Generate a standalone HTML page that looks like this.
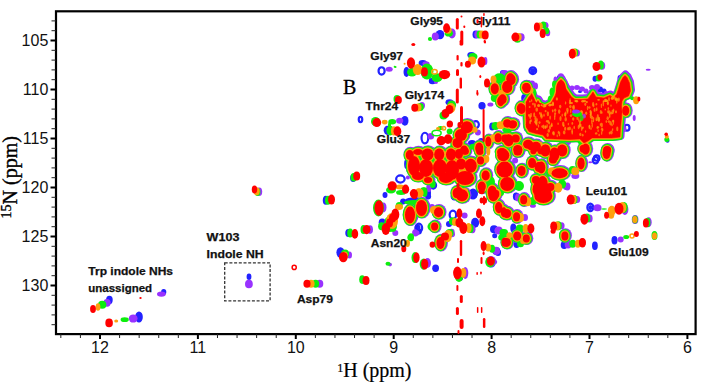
<!DOCTYPE html>
<html><head><meta charset="utf-8"><style>
html,body{margin:0;padding:0;background:#fff;}
body{width:709px;height:383px;overflow:hidden;}
svg{display:block;}
.tl{font-family:"Liberation Sans",sans-serif;font-size:16px;fill:#111;}
.ax{font-family:"Liberation Serif",serif;font-size:20px;fill:#000;}
.lb{font-family:"Liberation Sans",sans-serif;font-weight:bold;font-size:11.2px;fill:#111;stroke:#111;stroke-width:0.25px;}
</style></head><body>
<svg width="709" height="383" viewBox="0 0 709 383">
<defs><filter id="soft" x="-5%" y="-5%" width="110%" height="110%"><feGaussianBlur stdDeviation="0.35"/></filter></defs>
<rect width="709" height="383" fill="#fff"/>
<g filter="url(#soft)"><g><ellipse cx="109.4" cy="300.0" rx="3.3" ry="4.2" fill="#2020ff"/><ellipse cx="139.0" cy="317.0" rx="3.8" ry="5.6" fill="#2020ff"/><ellipse cx="163.7" cy="292.0" rx="2.6" ry="3.0" fill="#2020ff"/><ellipse cx="249.0" cy="276.8" rx="2.4" ry="3.3" fill="#2020ff"/><ellipse cx="325.8" cy="200.3" rx="3.0" ry="4.5" fill="#2020ff"/><ellipse cx="353.1" cy="178.0" rx="3.0" ry="4.0" fill="#2020ff"/><ellipse cx="360.5" cy="119.5" rx="1.75" ry="2.55" fill="none" stroke="#2020ff" stroke-width="2.2"/><ellipse cx="348.3" cy="232.9" rx="3.0" ry="4.0" fill="#2020ff"/><ellipse cx="418.9" cy="231.4" rx="3.0" ry="3.0" fill="#2020ff"/><ellipse cx="435.6" cy="268.2" rx="3.4" ry="3.7" fill="#2020ff"/><ellipse cx="382.2" cy="222.4" rx="3.5" ry="4.0" fill="#2020ff"/><ellipse cx="403.1" cy="201.5" rx="3.0" ry="3.0" fill="#2020ff"/><ellipse cx="417.5" cy="227.7" rx="3.0" ry="3.5" fill="#2020ff"/><ellipse cx="428.0" cy="193.0" rx="3.0" ry="6.0" fill="#2020ff"/><ellipse cx="416.0" cy="200.0" rx="11.0" ry="2.8" fill="#2020ff"/><ellipse cx="340.5" cy="252.5" rx="4.1" ry="5.2" fill="#2020ff"/><ellipse cx="440.0" cy="34.6" rx="4.3" ry="4.7" fill="#2020ff"/><ellipse cx="381.6" cy="70.9" rx="3.05" ry="3.65" fill="none" stroke="#2020ff" stroke-width="2.2"/><ellipse cx="406.5" cy="72.0" rx="3.0" ry="5.0" fill="#2020ff"/><ellipse cx="422.8" cy="63.0" rx="4.2" ry="3.0" fill="#2020ff"/><ellipse cx="432.5" cy="81.0" rx="3.7" ry="3.2" fill="#2020ff"/><ellipse cx="475.5" cy="34.5" rx="3.0" ry="4.0" fill="#2020ff"/><ellipse cx="595.0" cy="78.7" rx="2.5" ry="3.0" fill="#2020ff"/><ellipse cx="471.3" cy="54.9" rx="4.0" ry="3.0" fill="#2020ff"/><ellipse cx="532.6" cy="66.6" rx="0.1" ry="0.1" fill="#2020ff"/><ellipse cx="404.9" cy="120.8" rx="3.6" ry="4.9" fill="#2020ff"/><ellipse cx="387.3" cy="130.3" rx="3.6" ry="4.6" fill="#2020ff"/><ellipse cx="449.5" cy="102.3" rx="4.0" ry="3.0" fill="#2020ff"/><ellipse cx="424.9" cy="138.1" rx="3.35" ry="5.35" fill="none" stroke="#2020ff" stroke-width="2.2"/><ellipse cx="503.0" cy="72.5" rx="3.0" ry="2.5" fill="#2020ff"/><ellipse cx="524.2" cy="97.9" rx="3.0" ry="4.0" fill="#2020ff"/><ellipse cx="532.8" cy="70.7" rx="3.35" ry="3.35" fill="none" stroke="#2020ff" stroke-width="2.2"/><ellipse cx="532.8" cy="70.7" rx="2.5" ry="2.5" fill="#2020ff"/><ellipse cx="482.0" cy="105.8" rx="3.6" ry="3.8" fill="#2020ff"/><ellipse cx="492.2" cy="126.6" rx="3.0" ry="4.0" fill="#2020ff"/><ellipse cx="475.9" cy="124.6" rx="2.95" ry="3.55" fill="none" stroke="#2020ff" stroke-width="2.2"/><ellipse cx="472.0" cy="142.9" rx="4.0" ry="3.0" fill="#2020ff"/><ellipse cx="481.1" cy="140.9" rx="3.0" ry="3.0" fill="#2020ff"/><ellipse cx="526.8" cy="128.5" rx="3.0" ry="3.0" fill="#2020ff"/><ellipse cx="474.6" cy="193.1" rx="3.0" ry="3.0" fill="#2020ff"/><ellipse cx="516.4" cy="195.7" rx="3.0" ry="3.0" fill="#2020ff"/><ellipse cx="406.6" cy="164.0" rx="2.5" ry="5.0" fill="#2020ff"/><ellipse cx="433.5" cy="186.0" rx="2.0" ry="3.0" fill="#2020ff"/><ellipse cx="559.0" cy="77.0" rx="2.0" ry="2.0" fill="#2020ff"/><ellipse cx="580.0" cy="91.5" rx="2.0" ry="1.5" fill="#2020ff"/><ellipse cx="600.0" cy="89.5" rx="3.0" ry="3.0" fill="#2020ff"/><ellipse cx="604.0" cy="91.0" rx="2.5" ry="2.5" fill="#2020ff"/><ellipse cx="594.0" cy="90.0" rx="2.0" ry="2.0" fill="#2020ff"/><ellipse cx="620.0" cy="78.0" rx="2.5" ry="3.0" fill="#2020ff"/><ellipse cx="627.0" cy="127.7" rx="2.45" ry="2.95" fill="none" stroke="#2020ff" stroke-width="2.2"/><ellipse cx="667.5" cy="140.7" rx="2.0" ry="2.0" fill="#2020ff"/><ellipse cx="596.7" cy="158.0" rx="2.75" ry="2.75" fill="none" stroke="#2020ff" stroke-width="2.2"/><ellipse cx="595.5" cy="160.2" rx="2.75" ry="3.25" fill="none" stroke="#2020ff" stroke-width="2.2"/><ellipse cx="590.3" cy="207.4" rx="2.95" ry="3.75" fill="none" stroke="#2020ff" stroke-width="2.2"/><ellipse cx="590.3" cy="207.4" rx="2.0" ry="2.5" fill="#2020ff"/><ellipse cx="614.5" cy="240.3" rx="3.0" ry="4.2" fill="#2020ff"/><ellipse cx="614.5" cy="240.3" rx="1.8" ry="2.5" fill="#2020ff"/><ellipse cx="594.9" cy="245.7" rx="2.9" ry="4.2" fill="#2020ff"/><ellipse cx="564.2" cy="245.0" rx="3.5" ry="4.0" fill="#2020ff"/><ellipse cx="515.9" cy="196.5" rx="3.0" ry="4.0" fill="#2020ff"/><ellipse cx="513.3" cy="227.9" rx="3.0" ry="4.5" fill="#2020ff"/><ellipse cx="516.6" cy="244.4" rx="3.0" ry="3.5" fill="#2020ff"/><ellipse cx="496.3" cy="250.9" rx="4.0" ry="4.0" fill="#2020ff"/><ellipse cx="428.1" cy="196.5" rx="3.0" ry="3.0" fill="#2020ff"/><ellipse cx="418.9" cy="227.9" rx="3.25" ry="4.25" fill="none" stroke="#2020ff" stroke-width="2.2"/><ellipse cx="454.2" cy="196.5" rx="3.0" ry="4.0" fill="#2020ff"/><ellipse cx="452.9" cy="214.8" rx="3.25" ry="4.25" fill="none" stroke="#2020ff" stroke-width="2.2"/><ellipse cx="449.0" cy="224.0" rx="3.0" ry="3.0" fill="#2020ff"/><ellipse cx="475.1" cy="222.7" rx="4.0" ry="5.0" fill="#2020ff"/><ellipse cx="473.8" cy="194.0" rx="4.0" ry="4.5" fill="#2020ff"/><ellipse cx="494.0" cy="229.2" rx="4.0" ry="4.0" fill="#2020ff"/><ellipse cx="460.0" cy="278.0" rx="3.0" ry="3.0" fill="#2020ff"/><ellipse cx="498.0" cy="252.6" rx="3.0" ry="3.5" fill="#2020ff"/><ellipse cx="491.0" cy="262.0" rx="5.0" ry="5.5" fill="#2020ff"/><ellipse cx="494.7" cy="235.7" rx="2.5" ry="2.5" fill="#2020ff"/><ellipse cx="400.4" cy="179.0" rx="4.25" ry="3.55" fill="none" stroke="#2020ff" stroke-width="2.2"/><ellipse cx="385.0" cy="195.0" rx="2.5" ry="3.0" fill="#2020ff"/><ellipse cx="433.3" cy="185.2" rx="2.75" ry="3.35" fill="none" stroke="#2020ff" stroke-width="2.2"/><ellipse cx="453.6" cy="196.4" rx="3.0" ry="3.0" fill="#2020ff"/><ellipse cx="473.0" cy="194.0" rx="4.5" ry="5.5" fill="#2020ff"/></g>
<g><polygon points="526,102 528,99 531.7,93.5 535,101 536.5,103 538,100.5 540,104 545,106 551,103 555,96 558,87 561,79.5 564,86 568,92 571.5,97 575,99.5 582,99.5 588,99 593,92 596,97 604,98 610,95.5 613,98 616.7,94.4 618.5,89 620.5,82 623,77.5 625,75.5 627,77.5 629.5,83 630.5,91 628.5,96 624,98 622,101 621.5,106 622,112 621.5,118 620.5,128 620,137 612,138 592,138 588,141 584,143 580,139 570,139.5 555,139 546,138.5 543,135 536,133.5 529,131.5 526.5,127 526,118" fill="#9933ff" stroke="#9933ff" stroke-width="8" stroke-linejoin="round" transform="translate(0.5,-1)"/><ellipse cx="107.0" cy="302.8" rx="3.7" ry="3.9" fill="#9933ff"/><ellipse cx="133.2" cy="318.5" rx="4.4" ry="4.1" fill="#9933ff"/><ellipse cx="161.4" cy="294.1" rx="4.4" ry="2.6" fill="#9933ff"/><ellipse cx="248.9" cy="284.0" rx="3.9" ry="4.3" fill="#9933ff"/><ellipse cx="319.7" cy="283.7" rx="3.6" ry="4.0" fill="#9933ff"/><ellipse cx="259.2" cy="191.7" rx="3.0" ry="4.3" fill="#9933ff"/><ellipse cx="370.0" cy="229.6" rx="3.0" ry="4.3" fill="#9933ff"/><ellipse cx="383.5" cy="207.4" rx="3.0" ry="5.0" fill="#9933ff"/><ellipse cx="390.0" cy="264.6" rx="2.0" ry="1.8" fill="#9933ff"/><ellipse cx="415.3" cy="232.9" rx="3.0" ry="3.5" fill="#9933ff"/><ellipse cx="427.5" cy="263.0" rx="3.5" ry="5.0" fill="#9933ff"/><ellipse cx="395.3" cy="232.9" rx="3.0" ry="3.0" fill="#9933ff"/><ellipse cx="414.9" cy="232.2" rx="2.5" ry="3.0" fill="#9933ff"/><ellipse cx="410.6" cy="214.7" rx="7.9" ry="11.4" fill="#9933ff"/><ellipse cx="349.5" cy="255.0" rx="2.5" ry="3.6" fill="#9933ff"/><ellipse cx="435.3" cy="36.6" rx="3.5" ry="4.0" fill="#9933ff"/><ellipse cx="452.0" cy="33.4" rx="3.7" ry="5.0" fill="#9933ff"/><ellipse cx="389.2" cy="69.2" rx="3.5" ry="2.5" fill="#9933ff"/><ellipse cx="426.0" cy="63.7" rx="3.6" ry="2.5" fill="#9933ff"/><ellipse cx="436.0" cy="82.0" rx="2.0" ry="2.0" fill="#9933ff"/><ellipse cx="477.3" cy="34.5" rx="3.0" ry="4.0" fill="#9933ff"/><ellipse cx="521.1" cy="37.3" rx="3.5" ry="4.0" fill="#9933ff"/><ellipse cx="545.5" cy="25.6" rx="3.0" ry="3.5" fill="#9933ff"/><ellipse cx="547.7" cy="32.8" rx="2.5" ry="3.5" fill="#9933ff"/><ellipse cx="577.4" cy="53.0" rx="2.5" ry="3.5" fill="#9933ff"/><ellipse cx="602.2" cy="65.8" rx="3.0" ry="4.0" fill="#9933ff"/><ellipse cx="648.2" cy="69.8" rx="2.5" ry="1.0" fill="#9933ff"/><ellipse cx="485.4" cy="61.1" rx="2.0" ry="4.0" fill="#9933ff"/><ellipse cx="422.0" cy="105.6" rx="3.0" ry="3.5" fill="#9933ff"/><ellipse cx="399.7" cy="120.8" rx="3.6" ry="3.0" fill="#9933ff"/><ellipse cx="452.0" cy="104.0" rx="3.5" ry="3.5" fill="#9933ff"/><ellipse cx="430.8" cy="136.2" rx="3.3" ry="3.3" fill="#9933ff"/><ellipse cx="504.6" cy="73.1" rx="4.0" ry="3.0" fill="#9933ff"/><ellipse cx="511.70000000000005" cy="79.3" rx="7.4" ry="8.4" fill="#9933ff"/><ellipse cx="495.40000000000003" cy="88.4" rx="6.9" ry="8.4" fill="#9933ff"/><ellipse cx="507.8" cy="87.10000000000001" rx="7.9" ry="8.4" fill="#9933ff"/><ellipse cx="501.3" cy="100.9" rx="6.4" ry="7.9" fill="#9933ff"/><ellipse cx="505.0" cy="99.4" rx="3.0" ry="4.0" fill="#9933ff"/><ellipse cx="532.0" cy="83.5" rx="3.0" ry="3.0" fill="#9933ff"/><ellipse cx="527.4" cy="87.8" rx="6.9" ry="7.9" fill="#9933ff"/><ellipse cx="490.4" cy="104.5" rx="3.0" ry="2.0" fill="#9933ff"/><ellipse cx="507.8" cy="123.0" rx="6.9" ry="6.9" fill="#9933ff"/><ellipse cx="513.1" cy="124.3" rx="6.9" ry="6.9" fill="#9933ff"/><ellipse cx="477.9" cy="132.4" rx="3.0" ry="3.0" fill="#9933ff"/><ellipse cx="467.40000000000003" cy="126.9" rx="8.9" ry="8.9" fill="#9933ff"/><ellipse cx="461.5" cy="134.7" rx="8.9" ry="8.9" fill="#9933ff"/><ellipse cx="458.20000000000005" cy="142.6" rx="7.9" ry="7.9" fill="#9933ff"/><ellipse cx="464.70000000000005" cy="149.7" rx="6.9" ry="7.4" fill="#9933ff"/><ellipse cx="479.8" cy="147.79999999999998" rx="6.9" ry="8.4" fill="#9933ff"/><ellipse cx="488.90000000000003" cy="141.29999999999998" rx="5.9" ry="7.9" fill="#9933ff"/><ellipse cx="498.70000000000005" cy="137.39999999999998" rx="6.4" ry="7.4" fill="#9933ff"/><ellipse cx="516.4" cy="140.3" rx="3.0" ry="4.0" fill="#9933ff"/><ellipse cx="509.20000000000005" cy="140.0" rx="7.9" ry="8.9" fill="#9933ff"/><ellipse cx="502.6" cy="151.7" rx="7.9" ry="6.9" fill="#9933ff"/><ellipse cx="518.3000000000001" cy="149.1" rx="7.4" ry="7.4" fill="#9933ff"/><ellipse cx="528.7" cy="143.89999999999998" rx="7.9" ry="7.4" fill="#9933ff"/><ellipse cx="536.6" cy="146.5" rx="7.9" ry="7.9" fill="#9933ff"/><ellipse cx="522.2" cy="108.60000000000001" rx="6.9" ry="7.9" fill="#9933ff"/><ellipse cx="534.0" cy="112.5" rx="7.9" ry="7.9" fill="#9933ff"/><ellipse cx="531.4" cy="124.3" rx="7.9" ry="8.9" fill="#9933ff"/><ellipse cx="540.6" cy="120.4" rx="7.9" ry="7.9" fill="#9933ff"/><ellipse cx="459.5" cy="153.6" rx="6.9" ry="7.9" fill="#9933ff"/><ellipse cx="466.0" cy="151.0" rx="6.4" ry="6.4" fill="#9933ff"/><ellipse cx="471.3" cy="165.39999999999998" rx="8.9" ry="9.9" fill="#9933ff"/><ellipse cx="480.40000000000003" cy="151.7" rx="6.4" ry="5.9" fill="#9933ff"/><ellipse cx="481.1" cy="160.1" rx="6.4" ry="6.9" fill="#9933ff"/><ellipse cx="465.6" cy="177.7" rx="11.9" ry="9.9" fill="#9933ff"/><ellipse cx="459.6" cy="192.79999999999998" rx="6.9" ry="8.9" fill="#9933ff"/><ellipse cx="486.3" cy="175.2" rx="6.9" ry="7.9" fill="#9933ff"/><ellipse cx="482.40000000000003" cy="186.29999999999998" rx="6.9" ry="7.9" fill="#9933ff"/><ellipse cx="492.8" cy="191.5" rx="7.4" ry="8.9" fill="#9933ff"/><ellipse cx="503.90000000000003" cy="154.89999999999998" rx="8.9" ry="8.9" fill="#9933ff"/><ellipse cx="505.20000000000005" cy="169.29999999999998" rx="10.9" ry="10.9" fill="#9933ff"/><ellipse cx="507.8" cy="183.7" rx="9.9" ry="9.9" fill="#9933ff"/><ellipse cx="518.3000000000001" cy="151.7" rx="6.9" ry="6.4" fill="#9933ff"/><ellipse cx="522.2" cy="170.6" rx="6.9" ry="7.9" fill="#9933ff"/><ellipse cx="532.7" cy="162.79999999999998" rx="6.9" ry="7.9" fill="#9933ff"/><ellipse cx="539.2" cy="166.7" rx="6.9" ry="7.9" fill="#9933ff"/><ellipse cx="536.6" cy="179.7" rx="6.9" ry="6.9" fill="#9933ff"/><ellipse cx="539.2" cy="188.89999999999998" rx="8.9" ry="10.9" fill="#9933ff"/><ellipse cx="534.0" cy="151.0" rx="5.9" ry="5.9" fill="#9933ff"/><ellipse cx="541.2" cy="151.0" rx="5.9" ry="5.9" fill="#9933ff"/><ellipse cx="515.1" cy="160.4" rx="3.0" ry="3.0" fill="#9933ff"/><ellipse cx="410.40000000000003" cy="154.7" rx="6.9" ry="7.9" fill="#9933ff"/><ellipse cx="418.6" cy="151.7" rx="7.9" ry="5.9" fill="#9933ff"/><ellipse cx="428.1" cy="154.1" rx="8.9" ry="8.9" fill="#9933ff"/><ellipse cx="439.8" cy="154.1" rx="7.9" ry="8.9" fill="#9933ff"/><ellipse cx="451.6" cy="154.1" rx="7.9" ry="8.9" fill="#9933ff"/><ellipse cx="414.6" cy="165.7" rx="8.9" ry="12.9" fill="#9933ff"/><ellipse cx="426.6" cy="167.7" rx="9.9" ry="11.9" fill="#9933ff"/><ellipse cx="440.6" cy="167.7" rx="9.9" ry="11.9" fill="#9933ff"/><ellipse cx="452.6" cy="169.7" rx="9.9" ry="12.9" fill="#9933ff"/><ellipse cx="418.6" cy="175.7" rx="8.9" ry="6.9" fill="#9933ff"/><ellipse cx="428.6" cy="179.7" rx="6.9" ry="5.9" fill="#9933ff"/><ellipse cx="446.6" cy="177.7" rx="9.9" ry="7.9" fill="#9933ff"/><ellipse cx="560.9" cy="75.8" rx="3.0" ry="2.5" fill="#9933ff"/><ellipse cx="572.0" cy="88.0" rx="2.5" ry="2.5" fill="#9933ff"/><ellipse cx="577.0" cy="87.5" rx="3.0" ry="2.5" fill="#9933ff"/><ellipse cx="582.0" cy="89.0" rx="3.0" ry="2.5" fill="#9933ff"/><ellipse cx="586.0" cy="91.0" rx="2.5" ry="2.5" fill="#9933ff"/><ellipse cx="592.0" cy="87.5" rx="3.0" ry="2.5" fill="#9933ff"/><ellipse cx="597.0" cy="87.0" rx="3.0" ry="3.0" fill="#9933ff"/><ellipse cx="606.0" cy="93.0" rx="2.0" ry="2.0" fill="#9933ff"/><ellipse cx="631.7" cy="91.0" rx="2.0" ry="3.0" fill="#9933ff"/><ellipse cx="625.9" cy="88.2" rx="7.699999999999999" ry="9.9" fill="#9933ff"/><ellipse cx="561.6" cy="89.7" rx="7.9" ry="12.9" fill="#9933ff"/><ellipse cx="531.6" cy="102.7" rx="6.9" ry="9.9" fill="#9933ff"/><ellipse cx="511.0" cy="78.0" rx="6.9" ry="7.9" fill="#9933ff"/><ellipse cx="507.1" cy="85.8" rx="6.9" ry="7.9" fill="#9933ff"/><ellipse cx="503.20000000000005" cy="98.9" rx="6.9" ry="7.9" fill="#9933ff"/><ellipse cx="526.7" cy="87.10000000000001" rx="6.9" ry="7.4" fill="#9933ff"/><ellipse cx="521.5" cy="108.0" rx="6.9" ry="7.9" fill="#9933ff"/><ellipse cx="508.40000000000003" cy="123.7" rx="6.9" ry="6.4" fill="#9933ff"/><ellipse cx="513.6" cy="123.7" rx="6.9" ry="6.4" fill="#9933ff"/><ellipse cx="623.0" cy="102.8" rx="2.0" ry="4.0" fill="#9933ff"/><ellipse cx="626.3000000000001" cy="110.4" rx="6.4" ry="7.9" fill="#9933ff"/><ellipse cx="621.8" cy="116.0" rx="3.0" ry="2.0" fill="#9933ff"/><ellipse cx="634.2" cy="117.9" rx="1.5" ry="3.0" fill="#9933ff"/><ellipse cx="624.4" cy="129.0" rx="2.0" ry="3.0" fill="#9933ff"/><ellipse cx="505.8" cy="138.1" rx="6.9" ry="6.9" fill="#9933ff"/><ellipse cx="516.3000000000001" cy="138.1" rx="6.9" ry="6.9" fill="#9933ff"/><ellipse cx="518.9" cy="149.79999999999998" rx="6.9" ry="6.9" fill="#9933ff"/><ellipse cx="531.9" cy="145.89999999999998" rx="6.9" ry="6.9" fill="#9933ff"/><ellipse cx="546.3000000000001" cy="148.5" rx="6.9" ry="6.9" fill="#9933ff"/><ellipse cx="562.0" cy="149.79999999999998" rx="6.9" ry="6.9" fill="#9933ff"/><ellipse cx="584.2" cy="148.5" rx="6.9" ry="6.9" fill="#9933ff"/><ellipse cx="607.7" cy="149.79999999999998" rx="6.9" ry="6.9" fill="#9933ff"/><ellipse cx="545.8000000000001" cy="150.1" rx="7.9" ry="8.9" fill="#9933ff"/><ellipse cx="555.0" cy="154.1" rx="7.9" ry="9.9" fill="#9933ff"/><ellipse cx="562.8000000000001" cy="150.1" rx="7.9" ry="8.9" fill="#9933ff"/><ellipse cx="553.6" cy="159.29999999999998" rx="6.9" ry="6.9" fill="#9933ff"/><ellipse cx="568.0" cy="142.0" rx="3.0" ry="3.0" fill="#9933ff"/><ellipse cx="541.9" cy="167.1" rx="6.9" ry="8.9" fill="#9933ff"/><ellipse cx="547.0" cy="172.7" rx="3.0" ry="4.0" fill="#9933ff"/><ellipse cx="560.2" cy="173.0" rx="10.9" ry="7.9" fill="#9933ff"/><ellipse cx="575.3" cy="175.9" rx="4.0" ry="3.0" fill="#9933ff"/><ellipse cx="581.7" cy="163.2" rx="6.4" ry="8.9" fill="#9933ff"/><ellipse cx="588.3" cy="145.2" rx="3.0" ry="3.0" fill="#9933ff"/><ellipse cx="586.3000000000001" cy="148.79999999999998" rx="6.9" ry="8.4" fill="#9933ff"/><ellipse cx="590.3" cy="162.2" rx="2.0" ry="1.0" fill="#9933ff"/><ellipse cx="611.5" cy="151.0" rx="3.0" ry="5.0" fill="#9933ff"/><ellipse cx="607.2" cy="152.79999999999998" rx="6.9" ry="8.9" fill="#9933ff"/><ellipse cx="543.2" cy="182.79999999999998" rx="7.9" ry="9.9" fill="#9933ff"/><ellipse cx="551.0" cy="186.7" rx="6.9" ry="6.9" fill="#9933ff"/><ellipse cx="566.0" cy="187.0" rx="3.0" ry="3.0" fill="#9933ff"/><ellipse cx="567.4" cy="186.5" rx="3.0" ry="4.0" fill="#9933ff"/><ellipse cx="545.8000000000001" cy="191.5" rx="8.9" ry="11.9" fill="#9933ff"/><ellipse cx="543.9" cy="195.7" rx="11.9" ry="9.9" fill="#9933ff"/><ellipse cx="577.2" cy="199.6" rx="3.0" ry="3.5" fill="#9933ff"/><ellipse cx="589.6" cy="218.5" rx="3.0" ry="4.0" fill="#9933ff"/><ellipse cx="561.6" cy="225.7" rx="3.0" ry="3.5" fill="#9933ff"/><ellipse cx="597.5" cy="207.7" rx="4.0" ry="3.5" fill="#9933ff"/><ellipse cx="624.9" cy="209.4" rx="3.5" ry="5.5" fill="#9933ff"/><ellipse cx="635.1" cy="219.4" rx="3.3" ry="4.5" fill="#9933ff"/><ellipse cx="648.7" cy="222.3" rx="3.0" ry="5.0" fill="#9933ff"/><ellipse cx="620.7" cy="239.5" rx="3.0" ry="3.0" fill="#9933ff"/><ellipse cx="565.5" cy="235.6" rx="6.4" ry="7.4" fill="#9933ff"/><ellipse cx="568.1" cy="244.4" rx="3.5" ry="4.0" fill="#9933ff"/><ellipse cx="524.3000000000001" cy="199.5" rx="6.4" ry="7.4" fill="#9933ff"/><ellipse cx="518.0" cy="197.5" rx="3.0" ry="4.0" fill="#9933ff"/><ellipse cx="532.9" cy="205.7" rx="3.0" ry="2.0" fill="#9933ff"/><ellipse cx="499.5" cy="208.0" rx="6.4" ry="7.9" fill="#9933ff"/><ellipse cx="507.40000000000003" cy="213.2" rx="7.4" ry="7.4" fill="#9933ff"/><ellipse cx="517.2" cy="216.5" rx="6.4" ry="7.4" fill="#9933ff"/><ellipse cx="525.0" cy="217.4" rx="3.0" ry="3.5" fill="#9933ff"/><ellipse cx="497.6" cy="230.5" rx="3.0" ry="3.0" fill="#9933ff"/><ellipse cx="517.8000000000001" cy="235.7" rx="6.9" ry="7.4" fill="#9933ff"/><ellipse cx="526.9" cy="238.2" rx="6.4" ry="6.9" fill="#9933ff"/><ellipse cx="507.40000000000003" cy="242.1" rx="6.9" ry="7.4" fill="#9933ff"/><ellipse cx="496.90000000000003" cy="193.7" rx="5.9" ry="6.9" fill="#9933ff"/><ellipse cx="497.0" cy="251.5" rx="3.0" ry="3.0" fill="#9933ff"/><ellipse cx="495.7" cy="262.0" rx="1.5" ry="2.0" fill="#9933ff"/><ellipse cx="555.5" cy="79.5" rx="2.0" ry="3.0" fill="#9933ff"/><ellipse cx="535.5" cy="86.0" rx="2.5" ry="3.5" fill="#9933ff"/><ellipse cx="432.0" cy="207.0" rx="3.0" ry="3.0" fill="#9933ff"/><ellipse cx="422.1" cy="207.7" rx="8.4" ry="10.9" fill="#9933ff"/><ellipse cx="439.1" cy="211.89999999999998" rx="7.4" ry="7.9" fill="#9933ff"/><ellipse cx="435.20000000000005" cy="226.29999999999998" rx="6.4" ry="6.9" fill="#9933ff"/><ellipse cx="417.0" cy="233.1" rx="2.5" ry="2.5" fill="#9933ff"/><ellipse cx="451.6" cy="231.8" rx="3.0" ry="3.0" fill="#9933ff"/><ellipse cx="462.6" cy="194.89999999999998" rx="8.9" ry="8.9" fill="#9933ff"/><ellipse cx="464.6" cy="215.5" rx="3.0" ry="3.0" fill="#9933ff"/><ellipse cx="472.5" cy="229.2" rx="3.0" ry="4.0" fill="#9933ff"/><ellipse cx="494.0" cy="194.89999999999998" rx="7.9" ry="8.9" fill="#9933ff"/><ellipse cx="499.20000000000005" cy="206.7" rx="6.4" ry="7.9" fill="#9933ff"/><ellipse cx="504.40000000000003" cy="211.89999999999998" rx="5.9" ry="7.9" fill="#9933ff"/><ellipse cx="498.6" cy="230.5" rx="4.0" ry="4.0" fill="#9933ff"/><ellipse cx="452.0" cy="234.3" rx="3.0" ry="3.0" fill="#9933ff"/><ellipse cx="441.1" cy="242.6" rx="6.9" ry="8.9" fill="#9933ff"/><ellipse cx="465.3" cy="272.9" rx="3.0" ry="6.0" fill="#9933ff"/><ellipse cx="496.0" cy="250.7" rx="3.5" ry="4.0" fill="#9933ff"/><ellipse cx="491.0" cy="261.5" rx="5.0" ry="5.5" fill="#9933ff"/><ellipse cx="407.9" cy="177.4" rx="2.0" ry="2.0" fill="#9933ff"/><ellipse cx="428.8" cy="188.0" rx="2.6" ry="3.9" fill="#9933ff"/><ellipse cx="456.8" cy="192.79999999999998" rx="6.4" ry="7.9" fill="#9933ff"/><ellipse cx="461.6" cy="163.7" rx="7.9" ry="8.4" fill="#9933ff"/><ellipse cx="452.6" cy="171.7" rx="7.9" ry="7.9" fill="#9933ff"/></g>
<g><polygon points="526,102 528,99 531.7,93.5 535,101 536.5,103 538,100.5 540,104 545,106 551,103 555,96 558,87 561,79.5 564,86 568,92 571.5,97 575,99.5 582,99.5 588,99 593,92 596,97 604,98 610,95.5 613,98 616.7,94.4 618.5,89 620.5,82 623,77.5 625,75.5 627,77.5 629.5,83 630.5,91 628.5,96 624,98 622,101 621.5,106 622,112 621.5,118 620.5,128 620,137 612,138 592,138 588,141 584,143 580,139 570,139.5 555,139 546,138.5 543,135 536,133.5 529,131.5 526.5,127 526,118" fill="#11ee11" stroke="#11ee11" stroke-width="6" stroke-linejoin="round"/><ellipse cx="102.2" cy="304.8" rx="4.2" ry="4.0" fill="#11ee11"/><ellipse cx="124.7" cy="319.7" rx="4.1" ry="2.4" fill="#11ee11"/><ellipse cx="315.6" cy="283.7" rx="3.6" ry="4.0" fill="#11ee11"/><ellipse cx="257.5" cy="192.0" rx="3.0" ry="4.0" fill="#11ee11"/><ellipse cx="328.0" cy="200.3" rx="3.0" ry="4.5" fill="#11ee11"/><ellipse cx="353.8" cy="177.3" rx="3.2" ry="4.3" fill="#11ee11"/><ellipse cx="350.2" cy="232.9" rx="3.0" ry="4.5" fill="#11ee11"/><ellipse cx="363.5" cy="229.6" rx="3.0" ry="4.5" fill="#11ee11"/><ellipse cx="378.5" cy="208.0" rx="5.5" ry="8.5" fill="#11ee11"/><ellipse cx="362.2" cy="279.6" rx="3.0" ry="4.3" fill="#11ee11"/><ellipse cx="388.0" cy="263.8" rx="2.5" ry="2.0" fill="#11ee11"/><ellipse cx="411.0" cy="237.2" rx="3.0" ry="4.0" fill="#11ee11"/><ellipse cx="415.0" cy="257.6" rx="3.5" ry="5.5" fill="#11ee11"/><ellipse cx="423.5" cy="264.1" rx="3.8" ry="5.6" fill="#11ee11"/><ellipse cx="381.6" cy="226.3" rx="3.5" ry="4.0" fill="#11ee11"/><ellipse cx="393.0" cy="226.0" rx="4.0" ry="6.0" fill="#11ee11"/><ellipse cx="390.0" cy="224.0" rx="6.0" ry="8.0" fill="#11ee11"/><ellipse cx="410.3" cy="237.5" rx="3.0" ry="3.0" fill="#11ee11"/><ellipse cx="399.2" cy="205.4" rx="3.5" ry="3.5" fill="#11ee11"/><ellipse cx="410.0" cy="215.0" rx="7.3" ry="10.8" fill="#11ee11"/><ellipse cx="423.2" cy="191.3" rx="3.0" ry="4.0" fill="#11ee11"/><ellipse cx="414.0" cy="202.5" rx="10.0" ry="2.5" fill="#11ee11"/><ellipse cx="345.0" cy="253.7" rx="4.0" ry="4.1" fill="#11ee11"/><ellipse cx="430.0" cy="39.0" rx="2.1" ry="2.0" fill="#11ee11"/><ellipse cx="448.8" cy="33.2" rx="4.1" ry="3.4" fill="#11ee11"/><ellipse cx="394.7" cy="66.7" rx="1.0" ry="1.0" fill="#11ee11"/><ellipse cx="395.5" cy="66.9" rx="1.0" ry="1.0" fill="#11ee11"/><ellipse cx="412.0" cy="72.3" rx="5.0" ry="4.2" fill="#11ee11"/><ellipse cx="427.0" cy="71.5" rx="6.4" ry="8.0" fill="#11ee11"/><ellipse cx="437.0" cy="77.6" rx="5.5" ry="4.4" fill="#11ee11"/><ellipse cx="479.5" cy="34.5" rx="3.0" ry="4.0" fill="#11ee11"/><ellipse cx="517.5" cy="39.3" rx="3.5" ry="3.5" fill="#11ee11"/><ellipse cx="543.4" cy="25.0" rx="3.0" ry="3.5" fill="#11ee11"/><ellipse cx="546.3" cy="30.7" rx="3.0" ry="3.5" fill="#11ee11"/><ellipse cx="575.2" cy="52.5" rx="3.0" ry="4.0" fill="#11ee11"/><ellipse cx="600.8" cy="65.0" rx="3.0" ry="4.5" fill="#11ee11"/><ellipse cx="598.6" cy="78.0" rx="3.0" ry="3.5" fill="#11ee11"/><ellipse cx="472.9" cy="56.4" rx="4.5" ry="3.5" fill="#11ee11"/><ellipse cx="420.3" cy="107.0" rx="3.5" ry="4.0" fill="#11ee11"/><ellipse cx="397.0" cy="99.0" rx="3.5" ry="4.0" fill="#11ee11"/><ellipse cx="392.2" cy="121.8" rx="3.9" ry="2.7" fill="#11ee11"/><ellipse cx="389.5" cy="125.0" rx="1.5" ry="3.0" fill="#11ee11"/><ellipse cx="375.5" cy="121.5" rx="4.5" ry="4.5" fill="#11ee11"/><ellipse cx="390.3" cy="130.6" rx="3.9" ry="4.9" fill="#11ee11"/><ellipse cx="451.6" cy="105.0" rx="4.5" ry="4.5" fill="#11ee11"/><ellipse cx="443.5" cy="115.5" rx="4.0" ry="4.0" fill="#11ee11"/><ellipse cx="440.5" cy="128.0" rx="3.0" ry="2.0" fill="#11ee11"/><ellipse cx="436.6" cy="132.9" rx="4.55" ry="2.75" fill="none" stroke="#11ee11" stroke-width="1.5"/><ellipse cx="449.7" cy="131.6" rx="3.0" ry="3.0" fill="#11ee11"/><ellipse cx="453.6" cy="145.3" rx="3.0" ry="2.5" fill="#11ee11"/><ellipse cx="499.4" cy="78.3" rx="6.0" ry="5.0" fill="#11ee11"/><ellipse cx="494.8" cy="97.9" rx="4.0" ry="4.0" fill="#11ee11"/><ellipse cx="496.0" cy="97.0" rx="4.0" ry="4.5" fill="#11ee11"/><ellipse cx="511.1" cy="79.6" rx="6.8" ry="7.8" fill="#11ee11"/><ellipse cx="494.8" cy="88.7" rx="6.3" ry="7.8" fill="#11ee11"/><ellipse cx="507.2" cy="87.4" rx="7.3" ry="7.8" fill="#11ee11"/><ellipse cx="500.7" cy="101.2" rx="5.8" ry="7.3" fill="#11ee11"/><ellipse cx="526.8" cy="88.1" rx="5.0" ry="6.0" fill="#11ee11"/><ellipse cx="526.8" cy="88.1" rx="6.3" ry="7.3" fill="#11ee11"/><ellipse cx="495.5" cy="125.9" rx="4.0" ry="4.0" fill="#11ee11"/><ellipse cx="507.2" cy="129.8" rx="5.0" ry="3.0" fill="#11ee11"/><ellipse cx="507.2" cy="123.3" rx="6.3" ry="6.3" fill="#11ee11"/><ellipse cx="512.5" cy="124.6" rx="6.3" ry="6.3" fill="#11ee11"/><ellipse cx="466.8" cy="127.2" rx="8.3" ry="8.3" fill="#11ee11"/><ellipse cx="460.9" cy="135.0" rx="8.3" ry="8.3" fill="#11ee11"/><ellipse cx="457.6" cy="142.9" rx="7.3" ry="7.3" fill="#11ee11"/><ellipse cx="464.1" cy="150.0" rx="6.3" ry="6.8" fill="#11ee11"/><ellipse cx="473.3" cy="146.8" rx="4.0" ry="3.0" fill="#11ee11"/><ellipse cx="479.2" cy="148.1" rx="6.3" ry="7.8" fill="#11ee11"/><ellipse cx="488.3" cy="141.6" rx="5.3" ry="7.3" fill="#11ee11"/><ellipse cx="498.1" cy="137.7" rx="5.8" ry="6.8" fill="#11ee11"/><ellipse cx="512.5" cy="136.3" rx="4.0" ry="4.0" fill="#11ee11"/><ellipse cx="508.6" cy="140.3" rx="7.3" ry="8.3" fill="#11ee11"/><ellipse cx="502.0" cy="152.0" rx="7.3" ry="6.3" fill="#11ee11"/><ellipse cx="517.7" cy="149.4" rx="6.8" ry="6.8" fill="#11ee11"/><ellipse cx="528.1" cy="144.2" rx="7.3" ry="6.8" fill="#11ee11"/><ellipse cx="536.0" cy="146.8" rx="7.3" ry="7.3" fill="#11ee11"/><ellipse cx="521.6" cy="108.9" rx="6.3" ry="7.3" fill="#11ee11"/><ellipse cx="533.4" cy="112.8" rx="7.3" ry="7.3" fill="#11ee11"/><ellipse cx="530.8" cy="124.6" rx="7.3" ry="8.3" fill="#11ee11"/><ellipse cx="540.0" cy="120.7" rx="7.3" ry="7.3" fill="#11ee11"/><ellipse cx="458.9" cy="153.9" rx="6.3" ry="7.3" fill="#11ee11"/><ellipse cx="465.4" cy="151.3" rx="5.8" ry="5.8" fill="#11ee11"/><ellipse cx="470.7" cy="165.7" rx="8.3" ry="9.3" fill="#11ee11"/><ellipse cx="479.8" cy="152.0" rx="5.8" ry="5.3" fill="#11ee11"/><ellipse cx="480.5" cy="160.4" rx="5.8" ry="6.3" fill="#11ee11"/><ellipse cx="465.0" cy="178.0" rx="11.3" ry="9.3" fill="#11ee11"/><ellipse cx="459.0" cy="193.1" rx="6.3" ry="8.3" fill="#11ee11"/><ellipse cx="485.7" cy="175.5" rx="6.3" ry="7.3" fill="#11ee11"/><ellipse cx="481.8" cy="186.6" rx="6.3" ry="7.3" fill="#11ee11"/><ellipse cx="492.2" cy="191.8" rx="6.8" ry="8.3" fill="#11ee11"/><ellipse cx="503.3" cy="155.2" rx="8.3" ry="8.3" fill="#11ee11"/><ellipse cx="504.6" cy="169.6" rx="10.3" ry="10.3" fill="#11ee11"/><ellipse cx="507.2" cy="184.0" rx="9.3" ry="9.3" fill="#11ee11"/><ellipse cx="517.7" cy="152.0" rx="6.3" ry="5.8" fill="#11ee11"/><ellipse cx="521.6" cy="170.9" rx="6.3" ry="7.3" fill="#11ee11"/><ellipse cx="532.1" cy="163.1" rx="6.3" ry="7.3" fill="#11ee11"/><ellipse cx="538.6" cy="167.0" rx="6.3" ry="7.3" fill="#11ee11"/><ellipse cx="536.0" cy="180.0" rx="6.3" ry="6.3" fill="#11ee11"/><ellipse cx="538.6" cy="189.2" rx="8.3" ry="10.3" fill="#11ee11"/><ellipse cx="533.4" cy="151.3" rx="5.3" ry="5.3" fill="#11ee11"/><ellipse cx="540.6" cy="151.3" rx="5.3" ry="5.3" fill="#11ee11"/><ellipse cx="490.0" cy="182.0" rx="5.0" ry="6.0" fill="#11ee11"/><ellipse cx="519.0" cy="186.0" rx="5.0" ry="5.0" fill="#11ee11"/><ellipse cx="409.8" cy="155.0" rx="6.3" ry="7.3" fill="#11ee11"/><ellipse cx="418.0" cy="152.0" rx="7.3" ry="5.3" fill="#11ee11"/><ellipse cx="427.5" cy="154.4" rx="8.3" ry="8.3" fill="#11ee11"/><ellipse cx="439.2" cy="154.4" rx="7.3" ry="8.3" fill="#11ee11"/><ellipse cx="451.0" cy="154.4" rx="7.3" ry="8.3" fill="#11ee11"/><ellipse cx="414.0" cy="166.0" rx="8.3" ry="12.3" fill="#11ee11"/><ellipse cx="426.0" cy="168.0" rx="9.3" ry="11.3" fill="#11ee11"/><ellipse cx="440.0" cy="168.0" rx="9.3" ry="11.3" fill="#11ee11"/><ellipse cx="452.0" cy="170.0" rx="9.3" ry="12.3" fill="#11ee11"/><ellipse cx="418.0" cy="176.0" rx="8.3" ry="6.3" fill="#11ee11"/><ellipse cx="428.0" cy="180.0" rx="6.3" ry="5.3" fill="#11ee11"/><ellipse cx="446.0" cy="178.0" rx="9.3" ry="7.3" fill="#11ee11"/><ellipse cx="432.7" cy="184.0" rx="3.0" ry="4.0" fill="#11ee11"/><ellipse cx="625.3" cy="88.5" rx="7.1" ry="9.3" fill="#11ee11"/><ellipse cx="561.0" cy="90.0" rx="7.3" ry="12.3" fill="#11ee11"/><ellipse cx="531.0" cy="103.0" rx="6.3" ry="9.3" fill="#11ee11"/><ellipse cx="510.4" cy="78.3" rx="6.3" ry="7.3" fill="#11ee11"/><ellipse cx="506.5" cy="86.1" rx="6.3" ry="7.3" fill="#11ee11"/><ellipse cx="502.6" cy="99.2" rx="6.3" ry="7.3" fill="#11ee11"/><ellipse cx="526.1" cy="87.4" rx="6.3" ry="6.8" fill="#11ee11"/><ellipse cx="520.9" cy="108.3" rx="6.3" ry="7.3" fill="#11ee11"/><ellipse cx="507.8" cy="124.0" rx="6.3" ry="5.8" fill="#11ee11"/><ellipse cx="513.0" cy="124.0" rx="6.3" ry="5.8" fill="#11ee11"/><ellipse cx="625.7" cy="110.7" rx="5.8" ry="7.3" fill="#11ee11"/><ellipse cx="632.2" cy="98.3" rx="2.0" ry="2.0" fill="#11ee11"/><ellipse cx="666.8" cy="139.4" rx="2.5" ry="2.5" fill="#11ee11"/><ellipse cx="505.2" cy="138.4" rx="6.3" ry="6.3" fill="#11ee11"/><ellipse cx="515.7" cy="138.4" rx="6.3" ry="6.3" fill="#11ee11"/><ellipse cx="518.3" cy="150.1" rx="6.3" ry="6.3" fill="#11ee11"/><ellipse cx="531.3" cy="146.2" rx="6.3" ry="6.3" fill="#11ee11"/><ellipse cx="545.7" cy="148.8" rx="6.3" ry="6.3" fill="#11ee11"/><ellipse cx="561.4" cy="150.1" rx="6.3" ry="6.3" fill="#11ee11"/><ellipse cx="583.6" cy="148.8" rx="6.3" ry="6.3" fill="#11ee11"/><ellipse cx="607.1" cy="150.1" rx="6.3" ry="6.3" fill="#11ee11"/><ellipse cx="545.2" cy="150.4" rx="7.3" ry="8.3" fill="#11ee11"/><ellipse cx="554.4" cy="154.4" rx="7.3" ry="9.3" fill="#11ee11"/><ellipse cx="562.2" cy="150.4" rx="7.3" ry="8.3" fill="#11ee11"/><ellipse cx="553.0" cy="159.6" rx="6.3" ry="6.3" fill="#11ee11"/><ellipse cx="541.3" cy="167.4" rx="6.3" ry="8.3" fill="#11ee11"/><ellipse cx="549.1" cy="172.7" rx="3.0" ry="4.0" fill="#11ee11"/><ellipse cx="559.6" cy="173.3" rx="10.3" ry="7.3" fill="#11ee11"/><ellipse cx="572.7" cy="170.0" rx="4.0" ry="4.0" fill="#11ee11"/><ellipse cx="581.1" cy="163.5" rx="5.8" ry="8.3" fill="#11ee11"/><ellipse cx="580.5" cy="141.3" rx="3.0" ry="3.0" fill="#11ee11"/><ellipse cx="585.7" cy="149.1" rx="6.3" ry="7.8" fill="#11ee11"/><ellipse cx="609.5" cy="152.0" rx="4.0" ry="5.5" fill="#11ee11"/><ellipse cx="606.6" cy="153.1" rx="6.3" ry="8.3" fill="#11ee11"/><ellipse cx="542.6" cy="183.1" rx="7.3" ry="9.3" fill="#11ee11"/><ellipse cx="550.4" cy="187.0" rx="6.3" ry="6.3" fill="#11ee11"/><ellipse cx="562.2" cy="184.0" rx="4.0" ry="4.5" fill="#11ee11"/><ellipse cx="545.2" cy="191.8" rx="8.3" ry="11.3" fill="#11ee11"/><ellipse cx="543.3" cy="196.0" rx="11.3" ry="9.3" fill="#11ee11"/><ellipse cx="574.0" cy="199.6" rx="3.5" ry="4.5" fill="#11ee11"/><ellipse cx="587.0" cy="217.9" rx="3.5" ry="4.5" fill="#11ee11"/><ellipse cx="558.3" cy="225.7" rx="3.5" ry="4.5" fill="#11ee11"/><ellipse cx="604.0" cy="209.0" rx="3.0" ry="0.8" fill="#11ee11"/><ellipse cx="624.2" cy="207.4" rx="3.5" ry="5.5" fill="#11ee11"/><ellipse cx="635.0" cy="219.4" rx="2.8" ry="4.0" fill="#11ee11"/><ellipse cx="647.5" cy="222.5" rx="3.0" ry="4.8" fill="#11ee11"/><ellipse cx="654.5" cy="235.5" rx="3.0" ry="4.5" fill="#11ee11"/><ellipse cx="626.2" cy="237.1" rx="3.0" ry="2.0" fill="#11ee11"/><ellipse cx="563.0" cy="235.0" rx="4.0" ry="5.0" fill="#11ee11"/><ellipse cx="564.9" cy="235.9" rx="5.8" ry="6.8" fill="#11ee11"/><ellipse cx="572.7" cy="243.7" rx="3.5" ry="4.0" fill="#11ee11"/><ellipse cx="523.7" cy="199.8" rx="5.8" ry="6.8" fill="#11ee11"/><ellipse cx="533.0" cy="201.0" rx="4.0" ry="4.0" fill="#11ee11"/><ellipse cx="498.9" cy="208.3" rx="5.8" ry="7.3" fill="#11ee11"/><ellipse cx="506.8" cy="213.5" rx="6.8" ry="6.8" fill="#11ee11"/><ellipse cx="516.6" cy="216.8" rx="5.8" ry="6.8" fill="#11ee11"/><ellipse cx="519.8" cy="228.5" rx="4.0" ry="4.0" fill="#11ee11"/><ellipse cx="504.1" cy="233.1" rx="4.0" ry="4.0" fill="#11ee11"/><ellipse cx="517.2" cy="236.0" rx="6.3" ry="6.8" fill="#11ee11"/><ellipse cx="526.3" cy="238.5" rx="5.8" ry="6.3" fill="#11ee11"/><ellipse cx="520.5" cy="243.7" rx="3.5" ry="3.5" fill="#11ee11"/><ellipse cx="502.8" cy="235.2" rx="3.0" ry="3.0" fill="#11ee11"/><ellipse cx="506.8" cy="242.4" rx="6.3" ry="6.8" fill="#11ee11"/><ellipse cx="496.3" cy="194.0" rx="5.3" ry="6.3" fill="#11ee11"/><ellipse cx="500.2" cy="191.3" rx="3.0" ry="3.0" fill="#11ee11"/><ellipse cx="550.5" cy="100.0" rx="2.8" ry="4.5" fill="#11ee11"/><ellipse cx="552.3" cy="92.0" rx="2.8" ry="4.5" fill="#11ee11"/><ellipse cx="554.5" cy="84.5" rx="2.5" ry="4.0" fill="#11ee11"/><ellipse cx="533.5" cy="93.0" rx="3.0" ry="5.0" fill="#11ee11"/><ellipse cx="421.5" cy="208.0" rx="7.8" ry="10.3" fill="#11ee11"/><ellipse cx="438.5" cy="212.2" rx="6.8" ry="7.3" fill="#11ee11"/><ellipse cx="432.0" cy="226.6" rx="4.5" ry="4.5" fill="#11ee11"/><ellipse cx="434.6" cy="226.6" rx="5.8" ry="6.3" fill="#11ee11"/><ellipse cx="449.6" cy="233.0" rx="4.0" ry="4.0" fill="#11ee11"/><ellipse cx="462.0" cy="195.2" rx="8.3" ry="8.3" fill="#11ee11"/><ellipse cx="452.9" cy="221.3" rx="4.0" ry="4.0" fill="#11ee11"/><ellipse cx="470.5" cy="228.5" rx="3.0" ry="4.5" fill="#11ee11"/><ellipse cx="501.0" cy="193.0" rx="3.0" ry="3.0" fill="#11ee11"/><ellipse cx="493.4" cy="195.2" rx="7.3" ry="8.3" fill="#11ee11"/><ellipse cx="498.6" cy="207.0" rx="5.8" ry="7.3" fill="#11ee11"/><ellipse cx="503.8" cy="212.2" rx="5.3" ry="7.3" fill="#11ee11"/><ellipse cx="502.5" cy="233.1" rx="3.0" ry="4.0" fill="#11ee11"/><ellipse cx="440.5" cy="242.9" rx="6.3" ry="8.3" fill="#11ee11"/><ellipse cx="459.0" cy="277.0" rx="4.0" ry="5.0" fill="#11ee11"/><ellipse cx="492.1" cy="248.7" rx="3.0" ry="4.0" fill="#11ee11"/><ellipse cx="490.0" cy="262.0" rx="4.8" ry="5.2" fill="#11ee11"/><ellipse cx="501.2" cy="237.6" rx="3.0" ry="3.0" fill="#11ee11"/><ellipse cx="391.0" cy="190.0" rx="5.0" ry="3.5" fill="#11ee11"/><ellipse cx="401.0" cy="192.5" rx="5.0" ry="2.5" fill="#11ee11"/><ellipse cx="424.5" cy="192.1" rx="3.0" ry="4.9" fill="#11ee11"/><ellipse cx="456.2" cy="193.1" rx="5.8" ry="7.3" fill="#11ee11"/><ellipse cx="461.0" cy="164.0" rx="7.3" ry="7.8" fill="#11ee11"/><ellipse cx="452.0" cy="172.0" rx="7.3" ry="7.3" fill="#11ee11"/></g>
<g><polygon points="526,102 528,99 531.7,93.5 535,101 536.5,103 538,100.5 540,104 545,106 551,103 555,96 558,87 561,79.5 564,86 568,92 571.5,97 575,99.5 582,99.5 588,99 593,92 596,97 604,98 610,95.5 613,98 616.7,94.4 618.5,89 620.5,82 623,77.5 625,75.5 627,77.5 629.5,83 630.5,91 628.5,96 624,98 622,101 621.5,106 622,112 621.5,118 620.5,128 620,137 612,138 592,138 588,141 584,143 580,139 570,139.5 555,139 546,138.5 543,135 536,133.5 529,131.5 526.5,127 526,118" fill="#ffa010" stroke="#ffa010" stroke-width="3.2" stroke-linejoin="round"/><ellipse cx="98.0" cy="307.0" rx="2.4" ry="3.8" fill="#ffa010"/><ellipse cx="116.2" cy="321.0" rx="2.0" ry="1.5" fill="#ffa010"/><ellipse cx="311.0" cy="283.7" rx="3.6" ry="4.0" fill="#ffa010"/><ellipse cx="256.7" cy="191.2" rx="3.0" ry="4.0" fill="#ffa010"/><ellipse cx="407.4" cy="243.6" rx="2.5" ry="3.5" fill="#ffa010"/><ellipse cx="392.0" cy="221.0" rx="6.0" ry="8.0" fill="#ffa010"/><ellipse cx="399.0" cy="207.0" rx="4.0" ry="3.0" fill="#ffa010"/><ellipse cx="407.7" cy="242.0" rx="2.0" ry="2.0" fill="#ffa010"/><ellipse cx="410.0" cy="215.0" rx="6.2" ry="9.7" fill="#ffa010"/><ellipse cx="418.5" cy="192.8" rx="3.5" ry="4.5" fill="#ffa010"/><ellipse cx="344.5" cy="255.5" rx="3.5" ry="4.0" fill="#ffa010"/><ellipse cx="448.0" cy="30.3" rx="3.7" ry="3.5" fill="#ffa010"/><ellipse cx="404.6" cy="63.7" rx="1.0" ry="1.0" fill="#ffa010"/><ellipse cx="417.6" cy="69.6" rx="4.8" ry="5.5" fill="#ffa010"/><ellipse cx="434.5" cy="71.7" rx="2.75" ry="2.25" fill="none" stroke="#ffa010" stroke-width="1.5"/><ellipse cx="481.8" cy="34.6" rx="3.0" ry="4.0" fill="#ffa010"/><ellipse cx="518.2" cy="37.1" rx="3.5" ry="4.0" fill="#ffa010"/><ellipse cx="539.8" cy="26.4" rx="3.0" ry="4.0" fill="#ffa010"/><ellipse cx="574.0" cy="53.0" rx="3.0" ry="4.5" fill="#ffa010"/><ellipse cx="472.1" cy="60.4" rx="4.0" ry="4.0" fill="#ffa010"/><ellipse cx="418.0" cy="107.4" rx="3.5" ry="4.0" fill="#ffa010"/><ellipse cx="384.7" cy="122.1" rx="2.9" ry="2.3" fill="#ffa010"/><ellipse cx="393.9" cy="130.9" rx="2.9" ry="4.6" fill="#ffa010"/><ellipse cx="450.9" cy="108.0" rx="4.5" ry="5.0" fill="#ffa010"/><ellipse cx="438.0" cy="128.5" rx="2.0" ry="1.5" fill="#ffa010"/><ellipse cx="443.8" cy="128.3" rx="1.75" ry="1.75" fill="none" stroke="#ffa010" stroke-width="1.5"/><ellipse cx="493.5" cy="79.6" rx="3.0" ry="4.0" fill="#ffa010"/><ellipse cx="502.0" cy="92.7" rx="4.0" ry="3.0" fill="#ffa010"/><ellipse cx="503.5" cy="98.0" rx="3.0" ry="3.0" fill="#ffa010"/><ellipse cx="511.1" cy="79.6" rx="5.7" ry="6.7" fill="#ffa010"/><ellipse cx="494.8" cy="88.7" rx="5.2" ry="6.7" fill="#ffa010"/><ellipse cx="507.2" cy="87.4" rx="6.2" ry="6.7" fill="#ffa010"/><ellipse cx="500.7" cy="101.2" rx="4.7" ry="6.2" fill="#ffa010"/><ellipse cx="526.8" cy="88.1" rx="5.2" ry="6.2" fill="#ffa010"/><ellipse cx="500.7" cy="125.2" rx="4.0" ry="4.0" fill="#ffa010"/><ellipse cx="507.2" cy="123.3" rx="5.2" ry="5.2" fill="#ffa010"/><ellipse cx="512.5" cy="124.6" rx="5.2" ry="5.2" fill="#ffa010"/><ellipse cx="474.6" cy="129.8" rx="3.0" ry="3.0" fill="#ffa010"/><ellipse cx="466.8" cy="127.2" rx="7.2" ry="7.2" fill="#ffa010"/><ellipse cx="460.9" cy="135.0" rx="7.2" ry="7.2" fill="#ffa010"/><ellipse cx="457.6" cy="142.9" rx="6.2" ry="6.2" fill="#ffa010"/><ellipse cx="464.1" cy="150.0" rx="5.2" ry="5.7" fill="#ffa010"/><ellipse cx="479.2" cy="148.1" rx="5.2" ry="6.7" fill="#ffa010"/><ellipse cx="488.3" cy="150.7" rx="2.0" ry="5.0" fill="#ffa010"/><ellipse cx="488.3" cy="141.6" rx="4.2" ry="6.2" fill="#ffa010"/><ellipse cx="492.9" cy="138.3" rx="3.0" ry="4.0" fill="#ffa010"/><ellipse cx="498.1" cy="137.7" rx="4.7" ry="5.7" fill="#ffa010"/><ellipse cx="508.6" cy="140.3" rx="6.2" ry="7.2" fill="#ffa010"/><ellipse cx="502.0" cy="152.0" rx="6.2" ry="5.2" fill="#ffa010"/><ellipse cx="517.7" cy="149.4" rx="5.7" ry="5.7" fill="#ffa010"/><ellipse cx="528.1" cy="144.2" rx="6.2" ry="5.7" fill="#ffa010"/><ellipse cx="539.9" cy="145.5" rx="3.0" ry="4.0" fill="#ffa010"/><ellipse cx="536.0" cy="146.8" rx="6.2" ry="6.2" fill="#ffa010"/><ellipse cx="521.6" cy="108.9" rx="5.2" ry="6.2" fill="#ffa010"/><ellipse cx="533.4" cy="112.8" rx="6.2" ry="6.2" fill="#ffa010"/><ellipse cx="530.8" cy="124.6" rx="6.2" ry="7.2" fill="#ffa010"/><ellipse cx="540.0" cy="120.7" rx="6.2" ry="6.2" fill="#ffa010"/><ellipse cx="458.9" cy="153.9" rx="5.2" ry="6.2" fill="#ffa010"/><ellipse cx="465.4" cy="151.3" rx="4.7" ry="4.7" fill="#ffa010"/><ellipse cx="470.7" cy="165.7" rx="7.2" ry="8.2" fill="#ffa010"/><ellipse cx="479.8" cy="152.0" rx="4.7" ry="4.2" fill="#ffa010"/><ellipse cx="480.5" cy="160.4" rx="4.7" ry="5.2" fill="#ffa010"/><ellipse cx="486.3" cy="159.1" rx="3.0" ry="4.0" fill="#ffa010"/><ellipse cx="465.0" cy="178.0" rx="10.2" ry="8.2" fill="#ffa010"/><ellipse cx="459.0" cy="193.1" rx="5.2" ry="7.2" fill="#ffa010"/><ellipse cx="485.7" cy="175.5" rx="5.2" ry="6.2" fill="#ffa010"/><ellipse cx="481.8" cy="186.6" rx="5.2" ry="6.2" fill="#ffa010"/><ellipse cx="492.2" cy="191.8" rx="5.7" ry="7.2" fill="#ffa010"/><ellipse cx="503.3" cy="155.2" rx="7.2" ry="7.2" fill="#ffa010"/><ellipse cx="504.6" cy="169.6" rx="9.2" ry="9.2" fill="#ffa010"/><ellipse cx="507.2" cy="184.0" rx="8.2" ry="8.2" fill="#ffa010"/><ellipse cx="517.7" cy="152.0" rx="5.2" ry="4.7" fill="#ffa010"/><ellipse cx="521.6" cy="170.9" rx="5.2" ry="6.2" fill="#ffa010"/><ellipse cx="532.1" cy="163.1" rx="5.2" ry="6.2" fill="#ffa010"/><ellipse cx="538.6" cy="167.0" rx="5.2" ry="6.2" fill="#ffa010"/><ellipse cx="536.0" cy="180.0" rx="5.2" ry="5.2" fill="#ffa010"/><ellipse cx="538.6" cy="189.2" rx="7.2" ry="9.2" fill="#ffa010"/><ellipse cx="533.4" cy="151.3" rx="4.2" ry="4.2" fill="#ffa010"/><ellipse cx="540.6" cy="151.3" rx="4.2" ry="4.2" fill="#ffa010"/><ellipse cx="409.8" cy="155.0" rx="5.2" ry="6.2" fill="#ffa010"/><ellipse cx="414.4" cy="155.7" rx="4.0" ry="4.0" fill="#ffa010"/><ellipse cx="418.0" cy="152.0" rx="6.2" ry="4.2" fill="#ffa010"/><ellipse cx="427.5" cy="154.4" rx="7.2" ry="7.2" fill="#ffa010"/><ellipse cx="439.2" cy="154.4" rx="6.2" ry="7.2" fill="#ffa010"/><ellipse cx="451.0" cy="154.4" rx="6.2" ry="7.2" fill="#ffa010"/><ellipse cx="414.0" cy="166.0" rx="7.2" ry="11.2" fill="#ffa010"/><ellipse cx="426.0" cy="168.0" rx="8.2" ry="10.2" fill="#ffa010"/><ellipse cx="440.0" cy="168.0" rx="8.2" ry="10.2" fill="#ffa010"/><ellipse cx="452.0" cy="170.0" rx="8.2" ry="11.2" fill="#ffa010"/><ellipse cx="418.0" cy="176.0" rx="7.2" ry="5.2" fill="#ffa010"/><ellipse cx="428.0" cy="180.0" rx="5.2" ry="4.2" fill="#ffa010"/><ellipse cx="446.0" cy="178.0" rx="8.2" ry="6.2" fill="#ffa010"/><ellipse cx="625.3" cy="88.5" rx="6.0" ry="8.2" fill="#ffa010"/><ellipse cx="561.0" cy="90.0" rx="6.2" ry="11.2" fill="#ffa010"/><ellipse cx="531.0" cy="103.0" rx="5.2" ry="8.2" fill="#ffa010"/><ellipse cx="510.4" cy="78.3" rx="5.2" ry="6.2" fill="#ffa010"/><ellipse cx="506.5" cy="86.1" rx="5.2" ry="6.2" fill="#ffa010"/><ellipse cx="502.6" cy="99.2" rx="5.2" ry="6.2" fill="#ffa010"/><ellipse cx="526.1" cy="87.4" rx="5.2" ry="5.7" fill="#ffa010"/><ellipse cx="520.9" cy="108.3" rx="5.2" ry="6.2" fill="#ffa010"/><ellipse cx="507.8" cy="124.0" rx="5.2" ry="4.7" fill="#ffa010"/><ellipse cx="513.0" cy="124.0" rx="5.2" ry="4.7" fill="#ffa010"/><ellipse cx="625.7" cy="110.7" rx="4.7" ry="6.2" fill="#ffa010"/><ellipse cx="636.1" cy="100.2" rx="3.0" ry="4.0" fill="#ffa010"/><ellipse cx="666.8" cy="136.8" rx="2.0" ry="2.0" fill="#ffa010"/><ellipse cx="505.2" cy="138.4" rx="5.2" ry="5.2" fill="#ffa010"/><ellipse cx="515.7" cy="138.4" rx="5.2" ry="5.2" fill="#ffa010"/><ellipse cx="518.3" cy="150.1" rx="5.2" ry="5.2" fill="#ffa010"/><ellipse cx="531.3" cy="146.2" rx="5.2" ry="5.2" fill="#ffa010"/><ellipse cx="545.7" cy="148.8" rx="5.2" ry="5.2" fill="#ffa010"/><ellipse cx="561.4" cy="150.1" rx="5.2" ry="5.2" fill="#ffa010"/><ellipse cx="583.6" cy="148.8" rx="5.2" ry="5.2" fill="#ffa010"/><ellipse cx="607.1" cy="150.1" rx="5.2" ry="5.2" fill="#ffa010"/><ellipse cx="545.2" cy="150.4" rx="6.2" ry="7.2" fill="#ffa010"/><ellipse cx="554.4" cy="154.4" rx="6.2" ry="8.2" fill="#ffa010"/><ellipse cx="562.2" cy="150.4" rx="6.2" ry="7.2" fill="#ffa010"/><ellipse cx="553.0" cy="159.6" rx="5.2" ry="5.2" fill="#ffa010"/><ellipse cx="541.3" cy="167.4" rx="5.2" ry="7.2" fill="#ffa010"/><ellipse cx="551.8" cy="171.3" rx="4.0" ry="4.0" fill="#ffa010"/><ellipse cx="559.6" cy="173.3" rx="9.2" ry="6.2" fill="#ffa010"/><ellipse cx="575.3" cy="171.3" rx="4.0" ry="4.0" fill="#ffa010"/><ellipse cx="581.1" cy="163.5" rx="4.7" ry="7.2" fill="#ffa010"/><ellipse cx="585.7" cy="149.1" rx="5.2" ry="6.7" fill="#ffa010"/><ellipse cx="606.6" cy="153.1" rx="5.2" ry="7.2" fill="#ffa010"/><ellipse cx="542.6" cy="183.1" rx="6.2" ry="8.2" fill="#ffa010"/><ellipse cx="550.4" cy="187.0" rx="5.2" ry="5.2" fill="#ffa010"/><ellipse cx="558.3" cy="187.8" rx="4.0" ry="5.0" fill="#ffa010"/><ellipse cx="545.2" cy="191.8" rx="7.2" ry="10.2" fill="#ffa010"/><ellipse cx="543.3" cy="196.0" rx="10.2" ry="8.2" fill="#ffa010"/><ellipse cx="573.0" cy="199.6" rx="3.5" ry="4.5" fill="#ffa010"/><ellipse cx="557.0" cy="226.0" rx="3.5" ry="4.5" fill="#ffa010"/><ellipse cx="622.3" cy="207.4" rx="4.0" ry="5.5" fill="#ffa010"/><ellipse cx="611.8" cy="210.7" rx="4.0" ry="5.0" fill="#ffa010"/><ellipse cx="611.2" cy="215.3" rx="3.0" ry="3.5" fill="#ffa010"/><ellipse cx="634.8" cy="219.4" rx="2.5" ry="3.5" fill="#ffa010"/><ellipse cx="654.5" cy="236.0" rx="2.5" ry="3.5" fill="#ffa010"/><ellipse cx="632.0" cy="236.0" rx="2.05" ry="2.05" fill="none" stroke="#ffa010" stroke-width="1.5"/><ellipse cx="564.9" cy="235.9" rx="4.7" ry="5.7" fill="#ffa010"/><ellipse cx="577.9" cy="243.7" rx="3.0" ry="4.0" fill="#ffa010"/><ellipse cx="523.7" cy="199.8" rx="4.7" ry="5.7" fill="#ffa010"/><ellipse cx="527.7" cy="201.8" rx="3.5" ry="4.5" fill="#ffa010"/><ellipse cx="498.9" cy="208.3" rx="4.7" ry="6.2" fill="#ffa010"/><ellipse cx="506.8" cy="213.5" rx="5.7" ry="5.7" fill="#ffa010"/><ellipse cx="516.6" cy="216.8" rx="4.7" ry="5.7" fill="#ffa010"/><ellipse cx="520.5" cy="217.4" rx="3.5" ry="4.5" fill="#ffa010"/><ellipse cx="525.7" cy="228.5" rx="3.0" ry="4.5" fill="#ffa010"/><ellipse cx="509.4" cy="235.2" rx="3.0" ry="3.0" fill="#ffa010"/><ellipse cx="517.2" cy="236.0" rx="5.2" ry="5.7" fill="#ffa010"/><ellipse cx="526.3" cy="238.5" rx="4.7" ry="5.2" fill="#ffa010"/><ellipse cx="523.1" cy="241.1" rx="3.0" ry="3.0" fill="#ffa010"/><ellipse cx="506.8" cy="242.4" rx="5.2" ry="5.7" fill="#ffa010"/><ellipse cx="496.3" cy="194.0" rx="4.2" ry="5.2" fill="#ffa010"/><ellipse cx="531.0" cy="90.0" rx="2.5" ry="3.0" fill="#ffa010"/><ellipse cx="417.6" cy="194.0" rx="3.0" ry="3.0" fill="#ffa010"/><ellipse cx="421.5" cy="208.0" rx="6.7" ry="9.2" fill="#ffa010"/><ellipse cx="434.0" cy="210.0" rx="4.0" ry="4.0" fill="#ffa010"/><ellipse cx="438.5" cy="212.2" rx="5.7" ry="6.2" fill="#ffa010"/><ellipse cx="434.6" cy="226.6" rx="4.7" ry="5.2" fill="#ffa010"/><ellipse cx="448.3" cy="234.4" rx="4.0" ry="4.5" fill="#ffa010"/><ellipse cx="465.0" cy="191.0" rx="3.0" ry="3.0" fill="#ffa010"/><ellipse cx="462.0" cy="195.2" rx="7.2" ry="7.2" fill="#ffa010"/><ellipse cx="455.0" cy="222.0" rx="3.0" ry="4.0" fill="#ffa010"/><ellipse cx="468.6" cy="227.9" rx="3.0" ry="5.0" fill="#ffa010"/><ellipse cx="497.3" cy="194.0" rx="4.0" ry="5.0" fill="#ffa010"/><ellipse cx="493.4" cy="195.2" rx="6.2" ry="7.2" fill="#ffa010"/><ellipse cx="501.0" cy="207.0" rx="3.0" ry="4.0" fill="#ffa010"/><ellipse cx="498.6" cy="207.0" rx="4.7" ry="6.2" fill="#ffa010"/><ellipse cx="503.8" cy="212.2" rx="4.2" ry="6.2" fill="#ffa010"/><ellipse cx="447.6" cy="237.2" rx="4.0" ry="5.0" fill="#ffa010"/><ellipse cx="440.5" cy="242.9" rx="5.2" ry="7.2" fill="#ffa010"/><ellipse cx="463.3" cy="272.9" rx="3.0" ry="5.0" fill="#ffa010"/><ellipse cx="488.1" cy="247.4" rx="3.0" ry="4.0" fill="#ffa010"/><ellipse cx="400.0" cy="187.0" rx="4.5" ry="2.5" fill="#ffa010"/><ellipse cx="419.6" cy="193.1" rx="4.0" ry="4.6" fill="#ffa010"/><ellipse cx="456.2" cy="193.1" rx="4.7" ry="6.2" fill="#ffa010"/><ellipse cx="461.0" cy="164.0" rx="6.2" ry="6.7" fill="#ffa010"/><ellipse cx="452.0" cy="172.0" rx="6.2" ry="6.2" fill="#ffa010"/></g>
<g><polygon points="526,102 528,99 531.7,93.5 535,101 536.5,103 538,100.5 540,104 545,106 551,103 555,96 558,87 561,79.5 564,86 568,92 571.5,97 575,99.5 582,99.5 588,99 593,92 596,97 604,98 610,95.5 613,98 616.7,94.4 618.5,89 620.5,82 623,77.5 625,75.5 627,77.5 629.5,83 630.5,91 628.5,96 624,98 622,101 621.5,106 622,112 621.5,118 620.5,128 620,137 612,138 592,138 588,141 584,143 580,139 570,139.5 555,139 546,138.5 543,135 536,133.5 529,131.5 526.5,127 526,118" fill="#ff0000" stroke="#ff0000" stroke-width="0.5" stroke-linejoin="round"/><ellipse cx="93.0" cy="309.0" rx="2.9" ry="4.1" fill="#ff0000"/><ellipse cx="109.1" cy="322.9" rx="3.8" ry="4.4" fill="#ff0000"/><ellipse cx="140.5" cy="297.9" rx="1.2" ry="1.0" fill="#ff0000"/><ellipse cx="294.2" cy="267.4" rx="2.05" ry="2.05" fill="none" stroke="#ff0000" stroke-width="1.5"/><ellipse cx="307.0" cy="283.7" rx="3.6" ry="4.0" fill="#ff0000"/><ellipse cx="254.5" cy="189.5" rx="2.7" ry="4.0" fill="#ff0000"/><ellipse cx="331.5" cy="199.6" rx="3.5" ry="5.0" fill="#ff0000"/><ellipse cx="356.7" cy="175.9" rx="3.5" ry="4.5" fill="#ff0000"/><ellipse cx="354.9" cy="233.9" rx="3.3" ry="4.9" fill="#ff0000"/><ellipse cx="366.6" cy="229.6" rx="3.9" ry="4.6" fill="#ff0000"/><ellipse cx="379.0" cy="208.0" rx="4.6" ry="7.8" fill="#ff0000"/><ellipse cx="366.0" cy="280.6" rx="3.5" ry="4.5" fill="#ff0000"/><ellipse cx="403.8" cy="248.7" rx="2.5" ry="3.5" fill="#ff0000"/><ellipse cx="416.4" cy="257.6" rx="3.2" ry="5.3" fill="#ff0000"/><ellipse cx="424.7" cy="264.1" rx="3.6" ry="5.4" fill="#ff0000"/><ellipse cx="385.8" cy="229.0" rx="4.2" ry="6.0" fill="#ff0000"/><ellipse cx="389.5" cy="223.0" rx="3.5" ry="4.5" fill="#ff0000"/><ellipse cx="392.5" cy="218.0" rx="3.5" ry="4.5" fill="#ff0000"/><ellipse cx="395.3" cy="214.5" rx="4.0" ry="6.0" fill="#ff0000"/><ellipse cx="410.0" cy="215.0" rx="5.0" ry="8.5" fill="#ff0000"/><ellipse cx="413.8" cy="193.6" rx="4.0" ry="4.5" fill="#ff0000"/><ellipse cx="343.3" cy="257.1" rx="4.4" ry="5.2" fill="#ff0000"/><ellipse cx="446.6" cy="28.1" rx="3.5" ry="4.9" fill="#ff0000"/><ellipse cx="413.3" cy="44.6" rx="2.0" ry="1.5" fill="#ff0000"/><ellipse cx="411.0" cy="63.0" rx="4.1" ry="5.7" fill="#ff0000"/><ellipse cx="424.5" cy="71.9" rx="3.4" ry="4.6" fill="#ff0000"/><ellipse cx="444.5" cy="74.6" rx="5.7" ry="4.6" fill="#ff0000"/><ellipse cx="485.2" cy="35.0" rx="3.5" ry="4.5" fill="#ff0000"/><ellipse cx="515.4" cy="37.1" rx="4.0" ry="4.5" fill="#ff0000"/><ellipse cx="536.9" cy="27.1" rx="3.0" ry="4.5" fill="#ff0000"/><ellipse cx="542.7" cy="33.6" rx="3.0" ry="4.5" fill="#ff0000"/><ellipse cx="572.3" cy="53.7" rx="3.5" ry="5.0" fill="#ff0000"/><ellipse cx="596.5" cy="66.5" rx="4.0" ry="4.5" fill="#ff0000"/><ellipse cx="600.0" cy="77.3" rx="2.5" ry="3.0" fill="#ff0000"/><ellipse cx="467.9" cy="64.3" rx="3.0" ry="3.5" fill="#ff0000"/><ellipse cx="481.5" cy="62.0" rx="4.0" ry="5.5" fill="#ff0000"/><ellipse cx="414.8" cy="107.8" rx="3.5" ry="4.0" fill="#ff0000"/><ellipse cx="398.4" cy="100.1" rx="3.5" ry="4.0" fill="#ff0000"/><ellipse cx="376.8" cy="122.6" rx="4.4" ry="4.5" fill="#ff0000"/><ellipse cx="397.4" cy="131.2" rx="3.9" ry="4.9" fill="#ff0000"/><ellipse cx="445.5" cy="113.5" rx="4.0" ry="4.5" fill="#ff0000"/><ellipse cx="449.5" cy="109.5" rx="4.0" ry="4.5" fill="#ff0000"/><ellipse cx="449.8" cy="124.0" rx="3.2" ry="3.5" fill="#ff0000"/><ellipse cx="441.2" cy="140.7" rx="4.6" ry="4.6" fill="#ff0000"/><ellipse cx="448.0" cy="139.1" rx="4.2" ry="4.9" fill="#ff0000"/><ellipse cx="487.0" cy="83.0" rx="3.0" ry="4.6" fill="#ff0000"/><ellipse cx="511.1" cy="79.6" rx="4.5" ry="5.5" fill="#ff0000"/><ellipse cx="494.8" cy="88.7" rx="4.0" ry="5.5" fill="#ff0000"/><ellipse cx="507.2" cy="87.4" rx="5.0" ry="5.5" fill="#ff0000"/><ellipse cx="500.7" cy="101.2" rx="3.5" ry="5.0" fill="#ff0000"/><ellipse cx="526.8" cy="88.1" rx="4.0" ry="5.0" fill="#ff0000"/><ellipse cx="477.5" cy="93.7" rx="1.0" ry="2.0" fill="#ff0000"/><ellipse cx="480.3" cy="76.4" rx="1.0" ry="1.5" fill="#ff0000"/><ellipse cx="507.2" cy="123.3" rx="4.0" ry="4.0" fill="#ff0000"/><ellipse cx="512.5" cy="124.6" rx="4.0" ry="4.0" fill="#ff0000"/><ellipse cx="466.8" cy="127.2" rx="6.0" ry="6.0" fill="#ff0000"/><ellipse cx="460.9" cy="135.0" rx="6.0" ry="6.0" fill="#ff0000"/><ellipse cx="457.6" cy="142.9" rx="5.0" ry="5.0" fill="#ff0000"/><ellipse cx="464.1" cy="150.0" rx="4.0" ry="4.5" fill="#ff0000"/><ellipse cx="479.2" cy="148.1" rx="4.0" ry="5.5" fill="#ff0000"/><ellipse cx="488.3" cy="141.6" rx="3.0" ry="5.0" fill="#ff0000"/><ellipse cx="498.1" cy="137.7" rx="3.5" ry="4.5" fill="#ff0000"/><ellipse cx="508.6" cy="140.3" rx="5.0" ry="6.0" fill="#ff0000"/><ellipse cx="502.0" cy="152.0" rx="5.0" ry="4.0" fill="#ff0000"/><ellipse cx="517.7" cy="149.4" rx="4.5" ry="4.5" fill="#ff0000"/><ellipse cx="528.1" cy="144.2" rx="5.0" ry="4.5" fill="#ff0000"/><ellipse cx="536.0" cy="146.8" rx="5.0" ry="5.0" fill="#ff0000"/><ellipse cx="521.6" cy="108.9" rx="4.0" ry="5.0" fill="#ff0000"/><ellipse cx="533.4" cy="112.8" rx="5.0" ry="5.0" fill="#ff0000"/><ellipse cx="530.8" cy="124.6" rx="5.0" ry="6.0" fill="#ff0000"/><ellipse cx="540.0" cy="120.7" rx="5.0" ry="5.0" fill="#ff0000"/><ellipse cx="458.9" cy="153.9" rx="4.0" ry="5.0" fill="#ff0000"/><ellipse cx="465.4" cy="151.3" rx="3.5" ry="3.5" fill="#ff0000"/><ellipse cx="470.7" cy="165.7" rx="6.0" ry="7.0" fill="#ff0000"/><ellipse cx="479.8" cy="152.0" rx="3.5" ry="3.0" fill="#ff0000"/><ellipse cx="480.5" cy="160.4" rx="3.5" ry="4.0" fill="#ff0000"/><ellipse cx="465.0" cy="178.0" rx="9.0" ry="7.0" fill="#ff0000"/><ellipse cx="459.0" cy="193.1" rx="4.0" ry="6.0" fill="#ff0000"/><ellipse cx="485.7" cy="175.5" rx="4.0" ry="5.0" fill="#ff0000"/><ellipse cx="481.8" cy="186.6" rx="4.0" ry="5.0" fill="#ff0000"/><ellipse cx="492.2" cy="191.8" rx="4.5" ry="6.0" fill="#ff0000"/><ellipse cx="503.3" cy="155.2" rx="6.0" ry="6.0" fill="#ff0000"/><ellipse cx="504.6" cy="169.6" rx="8.0" ry="8.0" fill="#ff0000"/><ellipse cx="507.2" cy="184.0" rx="7.0" ry="7.0" fill="#ff0000"/><ellipse cx="517.7" cy="152.0" rx="4.0" ry="3.5" fill="#ff0000"/><ellipse cx="521.6" cy="170.9" rx="4.0" ry="5.0" fill="#ff0000"/><ellipse cx="532.1" cy="163.1" rx="4.0" ry="5.0" fill="#ff0000"/><ellipse cx="538.6" cy="167.0" rx="4.0" ry="5.0" fill="#ff0000"/><ellipse cx="536.0" cy="180.0" rx="4.0" ry="4.0" fill="#ff0000"/><ellipse cx="538.6" cy="189.2" rx="6.0" ry="8.0" fill="#ff0000"/><ellipse cx="533.4" cy="151.3" rx="3.0" ry="3.0" fill="#ff0000"/><ellipse cx="540.6" cy="151.3" rx="3.0" ry="3.0" fill="#ff0000"/><ellipse cx="522.9" cy="197.7" rx="2.0" ry="2.0" fill="#ff0000"/><ellipse cx="409.8" cy="155.0" rx="4.0" ry="5.0" fill="#ff0000"/><ellipse cx="418.0" cy="152.0" rx="5.0" ry="3.0" fill="#ff0000"/><ellipse cx="427.5" cy="154.4" rx="6.0" ry="6.0" fill="#ff0000"/><ellipse cx="439.2" cy="154.4" rx="5.0" ry="6.0" fill="#ff0000"/><ellipse cx="451.0" cy="154.4" rx="5.0" ry="6.0" fill="#ff0000"/><ellipse cx="414.0" cy="166.0" rx="6.0" ry="10.0" fill="#ff0000"/><ellipse cx="426.0" cy="168.0" rx="7.0" ry="9.0" fill="#ff0000"/><ellipse cx="440.0" cy="168.0" rx="7.0" ry="9.0" fill="#ff0000"/><ellipse cx="452.0" cy="170.0" rx="7.0" ry="10.0" fill="#ff0000"/><ellipse cx="418.0" cy="176.0" rx="6.0" ry="4.0" fill="#ff0000"/><ellipse cx="428.0" cy="180.0" rx="4.0" ry="3.0" fill="#ff0000"/><ellipse cx="446.0" cy="178.0" rx="7.0" ry="5.0" fill="#ff0000"/><ellipse cx="625.3" cy="88.5" rx="4.8" ry="7.0" fill="#ff0000"/><ellipse cx="561.0" cy="90.0" rx="5.0" ry="10.0" fill="#ff0000"/><ellipse cx="531.0" cy="103.0" rx="4.0" ry="7.0" fill="#ff0000"/><ellipse cx="540.0" cy="107.0" rx="4.0" ry="4.0" fill="#ff0000"/><ellipse cx="510.4" cy="78.3" rx="4.0" ry="5.0" fill="#ff0000"/><ellipse cx="506.5" cy="86.1" rx="4.0" ry="5.0" fill="#ff0000"/><ellipse cx="502.6" cy="99.2" rx="4.0" ry="5.0" fill="#ff0000"/><ellipse cx="526.1" cy="87.4" rx="4.0" ry="4.5" fill="#ff0000"/><ellipse cx="520.9" cy="108.3" rx="4.0" ry="5.0" fill="#ff0000"/><ellipse cx="507.8" cy="124.0" rx="4.0" ry="3.5" fill="#ff0000"/><ellipse cx="513.0" cy="124.0" rx="4.0" ry="3.5" fill="#ff0000"/><ellipse cx="625.7" cy="110.7" rx="3.5" ry="5.0" fill="#ff0000"/><ellipse cx="638.9" cy="98.9" rx="1.5" ry="2.5" fill="#ff0000"/><ellipse cx="666.2" cy="134.2" rx="1.8" ry="1.8" fill="#ff0000"/><ellipse cx="505.2" cy="138.4" rx="4.0" ry="4.0" fill="#ff0000"/><ellipse cx="515.7" cy="138.4" rx="4.0" ry="4.0" fill="#ff0000"/><ellipse cx="518.3" cy="150.1" rx="4.0" ry="4.0" fill="#ff0000"/><ellipse cx="531.3" cy="146.2" rx="4.0" ry="4.0" fill="#ff0000"/><ellipse cx="545.7" cy="148.8" rx="4.0" ry="4.0" fill="#ff0000"/><ellipse cx="561.4" cy="150.1" rx="4.0" ry="4.0" fill="#ff0000"/><ellipse cx="583.6" cy="148.8" rx="4.0" ry="4.0" fill="#ff0000"/><ellipse cx="607.1" cy="150.1" rx="4.0" ry="4.0" fill="#ff0000"/><ellipse cx="545.2" cy="150.4" rx="5.0" ry="6.0" fill="#ff0000"/><ellipse cx="554.4" cy="154.4" rx="5.0" ry="7.0" fill="#ff0000"/><ellipse cx="562.2" cy="150.4" rx="5.0" ry="6.0" fill="#ff0000"/><ellipse cx="553.0" cy="159.6" rx="4.0" ry="4.0" fill="#ff0000"/><ellipse cx="541.3" cy="167.4" rx="4.0" ry="6.0" fill="#ff0000"/><ellipse cx="559.6" cy="173.3" rx="8.0" ry="5.0" fill="#ff0000"/><ellipse cx="581.1" cy="163.5" rx="3.5" ry="6.0" fill="#ff0000"/><ellipse cx="585.7" cy="149.1" rx="4.0" ry="5.5" fill="#ff0000"/><ellipse cx="606.6" cy="153.1" rx="4.0" ry="6.0" fill="#ff0000"/><ellipse cx="542.6" cy="183.1" rx="5.0" ry="7.0" fill="#ff0000"/><ellipse cx="550.4" cy="187.0" rx="4.0" ry="4.0" fill="#ff0000"/><ellipse cx="545.2" cy="191.8" rx="6.0" ry="9.0" fill="#ff0000"/><ellipse cx="543.3" cy="196.0" rx="9.0" ry="7.0" fill="#ff0000"/><ellipse cx="570.7" cy="199.6" rx="4.0" ry="5.0" fill="#ff0000"/><ellipse cx="584.4" cy="219.2" rx="4.0" ry="5.5" fill="#ff0000"/><ellipse cx="553.7" cy="226.4" rx="3.5" ry="5.0" fill="#ff0000"/><ellipse cx="619.0" cy="208.7" rx="4.5" ry="6.0" fill="#ff0000"/><ellipse cx="606.6" cy="215.3" rx="2.5" ry="3.5" fill="#ff0000"/><ellipse cx="645.9" cy="223.0" rx="3.0" ry="4.5" fill="#ff0000"/><ellipse cx="636.4" cy="234.0" rx="2.5" ry="3.0" fill="#ff0000"/><ellipse cx="582.4" cy="242.6" rx="3.5" ry="4.5" fill="#ff0000"/><ellipse cx="564.9" cy="235.9" rx="3.5" ry="4.5" fill="#ff0000"/><ellipse cx="582.5" cy="243.1" rx="3.0" ry="4.5" fill="#ff0000"/><ellipse cx="553.1" cy="231.3" rx="2.5" ry="2.5" fill="#ff0000"/><ellipse cx="523.7" cy="199.8" rx="3.5" ry="4.5" fill="#ff0000"/><ellipse cx="498.9" cy="208.3" rx="3.5" ry="5.0" fill="#ff0000"/><ellipse cx="506.8" cy="213.5" rx="4.5" ry="4.5" fill="#ff0000"/><ellipse cx="516.6" cy="216.8" rx="3.5" ry="4.5" fill="#ff0000"/><ellipse cx="530.9" cy="228.5" rx="3.5" ry="5.0" fill="#ff0000"/><ellipse cx="517.2" cy="236.0" rx="4.0" ry="4.5" fill="#ff0000"/><ellipse cx="526.3" cy="238.5" rx="3.5" ry="4.0" fill="#ff0000"/><ellipse cx="506.8" cy="242.4" rx="4.0" ry="4.5" fill="#ff0000"/><ellipse cx="496.3" cy="194.0" rx="3.0" ry="4.0" fill="#ff0000"/><ellipse cx="421.5" cy="208.0" rx="5.5" ry="8.0" fill="#ff0000"/><ellipse cx="438.5" cy="212.2" rx="4.5" ry="5.0" fill="#ff0000"/><ellipse cx="434.6" cy="226.6" rx="3.5" ry="4.0" fill="#ff0000"/><ellipse cx="445.0" cy="236.4" rx="4.0" ry="4.0" fill="#ff0000"/><ellipse cx="462.0" cy="195.2" rx="6.0" ry="6.0" fill="#ff0000"/><ellipse cx="459.4" cy="213.5" rx="3.0" ry="5.0" fill="#ff0000"/><ellipse cx="459.4" cy="222.7" rx="4.0" ry="5.0" fill="#ff0000"/><ellipse cx="463.3" cy="227.9" rx="4.0" ry="6.0" fill="#ff0000"/><ellipse cx="479.0" cy="213.5" rx="3.0" ry="5.0" fill="#ff0000"/><ellipse cx="482.3" cy="221.3" rx="3.0" ry="5.0" fill="#ff0000"/><ellipse cx="481.6" cy="191.3" rx="3.0" ry="3.0" fill="#ff0000"/><ellipse cx="481.6" cy="200.4" rx="2.0" ry="3.0" fill="#ff0000"/><ellipse cx="485.5" cy="200.4" rx="1.5" ry="3.0" fill="#ff0000"/><ellipse cx="493.4" cy="195.2" rx="5.0" ry="6.0" fill="#ff0000"/><ellipse cx="498.6" cy="207.0" rx="3.5" ry="5.0" fill="#ff0000"/><ellipse cx="503.8" cy="212.2" rx="3.0" ry="5.0" fill="#ff0000"/><ellipse cx="440.5" cy="242.9" rx="4.0" ry="6.0" fill="#ff0000"/><ellipse cx="432.4" cy="244.6" rx="2.8" ry="3.2" fill="#ff0000"/><ellipse cx="457.4" cy="273.0" rx="4.3" ry="6.5" fill="#ff0000"/><ellipse cx="483.6" cy="246.1" rx="3.0" ry="5.0" fill="#ff0000"/><ellipse cx="483.6" cy="253.3" rx="1.0" ry="2.0" fill="#ff0000"/><ellipse cx="490.8" cy="261.1" rx="4.0" ry="4.6" fill="#ff0000"/><ellipse cx="504.5" cy="242.2" rx="3.0" ry="4.5" fill="#ff0000"/><ellipse cx="392.2" cy="185.9" rx="4.6" ry="4.6" fill="#ff0000"/><ellipse cx="405.6" cy="189.2" rx="3.6" ry="4.6" fill="#ff0000"/><ellipse cx="414.4" cy="194.4" rx="3.3" ry="4.6" fill="#ff0000"/><ellipse cx="456.2" cy="193.1" rx="3.5" ry="5.0" fill="#ff0000"/><ellipse cx="461.0" cy="164.0" rx="5.0" ry="5.5" fill="#ff0000"/><ellipse cx="452.0" cy="172.0" rx="5.0" ry="5.0" fill="#ff0000"/></g>
<g><ellipse cx="573.2" cy="119.0" rx="1.2" ry="1.7" fill="#ffa010" fill-opacity="0.7"/><ellipse cx="578.8" cy="120.1" rx="0.7" ry="1.8" fill="#ffa010" fill-opacity="0.7"/><ellipse cx="591.0" cy="128.5" rx="0.7" ry="1.5" fill="#ffa010" fill-opacity="0.7"/><ellipse cx="537.1" cy="129.2" rx="1.1" ry="1.1" fill="#ffa010" fill-opacity="0.7"/><ellipse cx="593.4" cy="121.2" rx="0.7" ry="1.0" fill="#ffa010" fill-opacity="0.7"/><ellipse cx="531.0" cy="115.0" rx="0.9" ry="2.3" fill="#ffa010" fill-opacity="0.7"/><ellipse cx="579.9" cy="122.3" rx="0.9" ry="2.1" fill="#ffa010" fill-opacity="0.7"/><ellipse cx="573.7" cy="107.4" rx="1.3" ry="2.6" fill="#ffa010" fill-opacity="0.7"/><ellipse cx="612.0" cy="125.0" rx="0.8" ry="1.4" fill="#ffa010" fill-opacity="0.7"/><ellipse cx="556.9" cy="98.9" rx="1.1" ry="1.6" fill="#ffa010" fill-opacity="0.7"/><ellipse cx="612.7" cy="111.8" rx="1.3" ry="2.4" fill="#ffa010" fill-opacity="0.7"/><ellipse cx="535.3" cy="121.8" rx="1.1" ry="1.4" fill="#ffa010" fill-opacity="0.7"/><ellipse cx="536.7" cy="109.6" rx="1.3" ry="2.2" fill="#ffa010" fill-opacity="0.7"/><ellipse cx="607.7" cy="103.3" rx="1.0" ry="1.7" fill="#ffa010" fill-opacity="0.7"/><ellipse cx="547.1" cy="126.0" rx="0.7" ry="2.0" fill="#ffa010" fill-opacity="0.7"/><ellipse cx="539.7" cy="113.3" rx="0.7" ry="1.4" fill="#ffa010" fill-opacity="0.7"/><ellipse cx="558.4" cy="132.3" rx="0.7" ry="1.6" fill="#ffa010" fill-opacity="0.7"/><ellipse cx="613.4" cy="122.3" rx="0.7" ry="2.6" fill="#ffa010" fill-opacity="0.7"/><ellipse cx="605.3" cy="109.5" rx="0.8" ry="1.1" fill="#ffa010" fill-opacity="0.7"/><ellipse cx="537.0" cy="119.9" rx="0.8" ry="2.0" fill="#ffa010" fill-opacity="0.7"/><ellipse cx="565.2" cy="114.6" rx="1.3" ry="1.8" fill="#ffa010" fill-opacity="0.7"/><ellipse cx="585.5" cy="131.5" rx="0.7" ry="1.2" fill="#ffa010" fill-opacity="0.7"/><ellipse cx="552.9" cy="103.8" rx="1.1" ry="2.5" fill="#ffa010" fill-opacity="0.7"/><ellipse cx="547.7" cy="135.0" rx="1.2" ry="2.0" fill="#ffa010" fill-opacity="0.7"/><ellipse cx="570.1" cy="100.3" rx="0.6" ry="2.5" fill="#ffa010" fill-opacity="0.7"/><ellipse cx="551.8" cy="124.9" rx="0.8" ry="2.3" fill="#ffa010" fill-opacity="0.7"/><ellipse cx="587.6" cy="108.0" rx="0.7" ry="2.2" fill="#ffa010" fill-opacity="0.7"/><ellipse cx="534.9" cy="105.4" rx="1.0" ry="2.4" fill="#ffa010" fill-opacity="0.7"/><ellipse cx="589.4" cy="107.5" rx="1.2" ry="1.3" fill="#ffa010" fill-opacity="0.7"/><ellipse cx="529.7" cy="107.0" rx="0.9" ry="1.1" fill="#ffa010" fill-opacity="0.7"/><ellipse cx="545.6" cy="111.1" rx="1.0" ry="1.2" fill="#ffa010" fill-opacity="0.7"/><ellipse cx="564.2" cy="132.5" rx="1.3" ry="2.1" fill="#ffa010" fill-opacity="0.7"/><ellipse cx="597.1" cy="120.0" rx="0.7" ry="1.1" fill="#ffa010" fill-opacity="0.7"/><ellipse cx="530.1" cy="122.1" rx="0.9" ry="2.2" fill="#ffa010" fill-opacity="0.7"/><ellipse cx="535.5" cy="118.4" rx="1.1" ry="2.4" fill="#ffa010" fill-opacity="0.7"/><ellipse cx="601.7" cy="124.9" rx="1.2" ry="2.5" fill="#ffa010" fill-opacity="0.7"/><ellipse cx="563.2" cy="124.1" rx="1.2" ry="2.4" fill="#ffa010" fill-opacity="0.7"/><ellipse cx="569.7" cy="128.4" rx="1.2" ry="1.9" fill="#ffa010" fill-opacity="0.7"/><ellipse cx="590.5" cy="111.7" rx="1.0" ry="2.0" fill="#ffa010" fill-opacity="0.7"/><ellipse cx="536.0" cy="122.2" rx="1.3" ry="2.4" fill="#ffa010" fill-opacity="0.7"/><ellipse cx="600.8" cy="111.9" rx="1.1" ry="1.9" fill="#ffa010" fill-opacity="0.7"/><ellipse cx="572.1" cy="130.4" rx="0.7" ry="2.2" fill="#ffa010" fill-opacity="0.7"/><ellipse cx="531.0" cy="120.7" rx="0.9" ry="1.4" fill="#ffa010" fill-opacity="0.7"/><ellipse cx="597.8" cy="116.4" rx="1.0" ry="2.5" fill="#ffa010" fill-opacity="0.7"/><ellipse cx="558.1" cy="123.8" rx="0.7" ry="1.3" fill="#ffa010" fill-opacity="0.7"/><ellipse cx="572.2" cy="132.6" rx="0.8" ry="2.1" fill="#ffa010" fill-opacity="0.7"/><ellipse cx="547.9" cy="113.7" rx="1.2" ry="2.5" fill="#ffa010" fill-opacity="0.7"/><ellipse cx="616.0" cy="111.8" rx="1.0" ry="1.5" fill="#ffa010" fill-opacity="0.7"/><ellipse cx="541.6" cy="116.4" rx="1.2" ry="2.4" fill="#ffa010" fill-opacity="0.7"/><ellipse cx="599.1" cy="135.0" rx="0.8" ry="1.3" fill="#ffa010" fill-opacity="0.7"/><ellipse cx="573.1" cy="107.3" rx="0.7" ry="1.7" fill="#ffa010" fill-opacity="0.7"/><ellipse cx="590.6" cy="116.2" rx="0.8" ry="2.3" fill="#ffa010" fill-opacity="0.7"/><ellipse cx="598.9" cy="119.4" rx="0.8" ry="2.3" fill="#ffa010" fill-opacity="0.7"/><ellipse cx="529.9" cy="101.6" rx="0.9" ry="1.0" fill="#ffa010" fill-opacity="0.7"/><ellipse cx="611.0" cy="105.7" rx="0.7" ry="1.1" fill="#ffa010" fill-opacity="0.7"/><ellipse cx="590.9" cy="114.3" rx="1.0" ry="2.0" fill="#ffa010" fill-opacity="0.7"/><ellipse cx="596.4" cy="104.2" rx="0.9" ry="1.3" fill="#ffa010" fill-opacity="0.7"/><ellipse cx="529.1" cy="115.4" rx="1.1" ry="1.3" fill="#ffa010" fill-opacity="0.7"/><ellipse cx="555.2" cy="110.2" rx="1.1" ry="1.8" fill="#ffa010" fill-opacity="0.7"/><ellipse cx="589.4" cy="127.0" rx="0.9" ry="2.3" fill="#ffa010" fill-opacity="0.7"/><ellipse cx="618.6" cy="99.6" rx="1.3" ry="2.2" fill="#ffa010" fill-opacity="0.7"/><ellipse cx="541.0" cy="114.6" rx="1.0" ry="2.5" fill="#ffa010" fill-opacity="0.7"/><ellipse cx="565.7" cy="119.3" rx="1.2" ry="2.3" fill="#ffa010" fill-opacity="0.7"/><ellipse cx="593.1" cy="104.4" rx="1.1" ry="2.3" fill="#ffa010" fill-opacity="0.7"/><ellipse cx="592.2" cy="125.4" rx="0.7" ry="2.4" fill="#ffa010" fill-opacity="0.7"/><ellipse cx="581.7" cy="128.4" rx="0.8" ry="2.5" fill="#ffa010" fill-opacity="0.7"/><ellipse cx="613.6" cy="110.3" rx="0.7" ry="1.7" fill="#ffa010" fill-opacity="0.7"/><ellipse cx="583.0" cy="127.5" rx="0.9" ry="1.0" fill="#ffa010" fill-opacity="0.7"/><ellipse cx="608.0" cy="103.1" rx="0.8" ry="2.3" fill="#ffa010" fill-opacity="0.7"/><ellipse cx="579.7" cy="125.7" rx="1.2" ry="2.1" fill="#ffa010" fill-opacity="0.7"/><ellipse cx="550.1" cy="117.6" rx="0.8" ry="2.2" fill="#ffa010" fill-opacity="0.7"/><ellipse cx="591.9" cy="117.4" rx="1.2" ry="1.9" fill="#ffa010" fill-opacity="0.7"/><ellipse cx="559.2" cy="111.6" rx="1.2" ry="2.4" fill="#ffa010" fill-opacity="0.7"/><ellipse cx="548.8" cy="130.9" rx="1.3" ry="1.8" fill="#ffa010" fill-opacity="0.7"/><ellipse cx="585.3" cy="104.2" rx="1.0" ry="1.8" fill="#ffa010" fill-opacity="0.7"/><ellipse cx="568.1" cy="128.8" rx="1.0" ry="1.8" fill="#ffa010" fill-opacity="0.7"/><ellipse cx="581.9" cy="113.0" rx="1.3" ry="2.5" fill="#ffa010" fill-opacity="0.7"/><ellipse cx="554.9" cy="115.4" rx="0.7" ry="1.7" fill="#ffa010" fill-opacity="0.7"/><ellipse cx="609.6" cy="132.9" rx="0.9" ry="1.5" fill="#ffa010" fill-opacity="0.7"/><ellipse cx="547.1" cy="121.3" rx="1.2" ry="1.2" fill="#ffa010" fill-opacity="0.7"/><ellipse cx="596.7" cy="109.2" rx="0.8" ry="2.0" fill="#ffa010" fill-opacity="0.7"/><ellipse cx="538.5" cy="126.0" rx="0.7" ry="1.8" fill="#ffa010" fill-opacity="0.7"/><ellipse cx="553.1" cy="104.1" rx="1.0" ry="1.7" fill="#ffa010" fill-opacity="0.7"/><ellipse cx="565.6" cy="112.9" rx="1.0" ry="1.3" fill="#ffa010" fill-opacity="0.7"/><ellipse cx="548.4" cy="121.9" rx="1.0" ry="1.8" fill="#ffa010" fill-opacity="0.7"/><ellipse cx="613.1" cy="121.1" rx="1.2" ry="1.4" fill="#ffa010" fill-opacity="0.7"/><ellipse cx="602.1" cy="129.2" rx="1.2" ry="1.5" fill="#ffa010" fill-opacity="0.7"/><ellipse cx="559.5" cy="133.8" rx="0.8" ry="2.6" fill="#ffa010" fill-opacity="0.7"/><ellipse cx="616.8" cy="101.5" rx="0.8" ry="2.2" fill="#ffa010" fill-opacity="0.7"/><ellipse cx="611.2" cy="113.3" rx="1.2" ry="1.2" fill="#ffa010" fill-opacity="0.7"/><ellipse cx="568.3" cy="124.1" rx="0.6" ry="1.3" fill="#ffa010" fill-opacity="0.7"/><ellipse cx="596.2" cy="133.4" rx="1.3" ry="1.2" fill="#ffa010" fill-opacity="0.7"/><ellipse cx="578.6" cy="127.1" rx="1.0" ry="2.1" fill="#ffa010" fill-opacity="0.7"/><ellipse cx="583.2" cy="117.1" rx="1.0" ry="1.2" fill="#ffa010" fill-opacity="0.7"/><ellipse cx="574.2" cy="127.4" rx="0.8" ry="1.7" fill="#ffa010" fill-opacity="0.7"/><ellipse cx="579.5" cy="113.6" rx="1.0" ry="1.0" fill="#ffa010" fill-opacity="0.7"/><ellipse cx="598.1" cy="130.6" rx="0.7" ry="1.7" fill="#ffa010" fill-opacity="0.7"/><ellipse cx="601.9" cy="112.6" rx="0.7" ry="1.3" fill="#ffa010" fill-opacity="0.7"/><ellipse cx="617.3" cy="128.9" rx="1.1" ry="2.4" fill="#ffa010" fill-opacity="0.7"/><ellipse cx="590.9" cy="112.6" rx="1.0" ry="1.8" fill="#ffa010" fill-opacity="0.7"/><ellipse cx="553.8" cy="133.4" rx="1.1" ry="2.2" fill="#ffa010" fill-opacity="0.7"/><ellipse cx="609.5" cy="112.6" rx="1.2" ry="2.4" fill="#ffa010" fill-opacity="0.7"/><ellipse cx="597.5" cy="127.5" rx="1.1" ry="1.6" fill="#ffa010" fill-opacity="0.7"/><ellipse cx="562.2" cy="115.2" rx="0.6" ry="1.6" fill="#ffa010" fill-opacity="0.7"/><ellipse cx="591.9" cy="121.6" rx="0.8" ry="2.5" fill="#ffa010" fill-opacity="0.7"/><ellipse cx="594.6" cy="109.9" rx="1.1" ry="1.9" fill="#ffa010" fill-opacity="0.7"/><ellipse cx="581.3" cy="112.0" rx="1.3" ry="2.0" fill="#ffa010" fill-opacity="0.7"/><ellipse cx="598.1" cy="127.2" rx="1.3" ry="1.0" fill="#ffa010" fill-opacity="0.7"/><ellipse cx="589.5" cy="126.3" rx="0.8" ry="1.6" fill="#ffa010" fill-opacity="0.7"/><ellipse cx="533.0" cy="104.0" rx="0.9" ry="1.2" fill="#ffa010" fill-opacity="0.7"/><ellipse cx="553.1" cy="133.1" rx="1.0" ry="1.8" fill="#ffa010" fill-opacity="0.7"/><ellipse cx="609.0" cy="99.1" rx="1.0" ry="2.2" fill="#ffa010" fill-opacity="0.7"/><ellipse cx="544.0" cy="115.3" rx="0.7" ry="1.8" fill="#ffa010" fill-opacity="0.7"/><ellipse cx="580.7" cy="120.5" rx="0.9" ry="1.5" fill="#ffa010" fill-opacity="0.7"/><ellipse cx="593.5" cy="119.0" rx="0.8" ry="2.1" fill="#ffa010" fill-opacity="0.7"/><ellipse cx="543.7" cy="126.9" rx="0.9" ry="2.4" fill="#ffa010" fill-opacity="0.7"/><ellipse cx="571.0" cy="115.6" rx="1.3" ry="1.4" fill="#ffa010" fill-opacity="0.7"/><ellipse cx="580.3" cy="134.4" rx="1.1" ry="1.7" fill="#ffa010" fill-opacity="0.7"/><ellipse cx="590.4" cy="114.7" rx="0.7" ry="1.1" fill="#ffa010" fill-opacity="0.7"/><ellipse cx="572.3" cy="123.4" rx="0.9" ry="1.4" fill="#ffa010" fill-opacity="0.7"/><ellipse cx="586.2" cy="113.2" rx="1.1" ry="1.8" fill="#ffa010" fill-opacity="0.7"/><ellipse cx="601.4" cy="105.8" rx="0.7" ry="2.4" fill="#ffa010" fill-opacity="0.7"/><ellipse cx="606.4" cy="121.6" rx="0.9" ry="1.4" fill="#ffa010" fill-opacity="0.7"/><ellipse cx="596.5" cy="119.2" rx="1.0" ry="2.0" fill="#ffa010" fill-opacity="0.7"/><ellipse cx="603.3" cy="103.8" rx="0.8" ry="2.6" fill="#ffa010" fill-opacity="0.7"/><ellipse cx="555.1" cy="113.4" rx="1.0" ry="1.2" fill="#ffa010" fill-opacity="0.7"/><ellipse cx="536.6" cy="123.7" rx="1.0" ry="2.0" fill="#ffa010" fill-opacity="0.7"/><ellipse cx="565.3" cy="115.6" rx="0.7" ry="1.5" fill="#ffa010" fill-opacity="0.7"/><ellipse cx="602.5" cy="130.4" rx="0.7" ry="1.2" fill="#ffa010" fill-opacity="0.7"/><ellipse cx="608.9" cy="121.6" rx="1.1" ry="1.3" fill="#ffa010" fill-opacity="0.7"/><ellipse cx="570.4" cy="106.6" rx="1.2" ry="1.6" fill="#ffa010" fill-opacity="0.7"/><ellipse cx="560.5" cy="118.5" rx="1.1" ry="2.5" fill="#ffa010" fill-opacity="0.7"/><ellipse cx="570.8" cy="111.1" rx="0.7" ry="2.4" fill="#ffa010" fill-opacity="0.7"/><ellipse cx="584.4" cy="115.9" rx="1.1" ry="1.5" fill="#ffa010" fill-opacity="0.7"/><ellipse cx="549.3" cy="123.1" rx="0.7" ry="1.5" fill="#ffa010" fill-opacity="0.7"/><ellipse cx="600.5" cy="124.5" rx="0.8" ry="1.2" fill="#ffa010" fill-opacity="0.7"/><ellipse cx="563.8" cy="125.8" rx="0.9" ry="1.2" fill="#ffa010" fill-opacity="0.7"/><ellipse cx="598.9" cy="119.3" rx="1.2" ry="2.5" fill="#ffa010" fill-opacity="0.7"/><ellipse cx="608.3" cy="108.5" rx="0.8" ry="1.6" fill="#ffa010" fill-opacity="0.7"/><ellipse cx="552.8" cy="110.8" rx="0.9" ry="1.6" fill="#ffa010" fill-opacity="0.7"/><ellipse cx="567.6" cy="111.9" rx="0.7" ry="1.9" fill="#ffa010" fill-opacity="0.7"/><ellipse cx="607.7" cy="118.2" rx="1.2" ry="1.9" fill="#ffa010" fill-opacity="0.7"/><ellipse cx="545.7" cy="127.1" rx="1.2" ry="1.5" fill="#ffa010" fill-opacity="0.7"/><ellipse cx="530.2" cy="117.1" rx="1.0" ry="1.9" fill="#ffa010" fill-opacity="0.7"/><ellipse cx="582.7" cy="128.3" rx="0.7" ry="1.1" fill="#ffa010" fill-opacity="0.7"/><ellipse cx="601.7" cy="132.9" rx="0.7" ry="2.0" fill="#ffa010" fill-opacity="0.7"/><ellipse cx="542.4" cy="126.6" rx="1.1" ry="1.4" fill="#ffa010" fill-opacity="0.7"/><ellipse cx="550.0" cy="127.4" rx="1.0" ry="2.2" fill="#ffa010" fill-opacity="0.7"/><ellipse cx="567.4" cy="109.9" rx="1.3" ry="2.1" fill="#ffa010" fill-opacity="0.7"/><ellipse cx="577.4" cy="118.0" rx="1.1" ry="2.1" fill="#ffa010" fill-opacity="0.7"/><ellipse cx="610.6" cy="123.3" rx="1.2" ry="2.3" fill="#ffa010" fill-opacity="0.7"/><ellipse cx="611.4" cy="132.4" rx="1.3" ry="2.0" fill="#ffa010" fill-opacity="0.7"/><ellipse cx="580.4" cy="125.1" rx="1.2" ry="1.7" fill="#ffa010" fill-opacity="0.7"/><ellipse cx="570.0" cy="102.0" rx="1.1" ry="2.6" fill="#ffa010" fill-opacity="0.7"/><ellipse cx="565.6" cy="102.9" rx="0.7" ry="1.7" fill="#ffa010" fill-opacity="0.7"/><ellipse cx="557.2" cy="135.8" rx="0.6" ry="1.5" fill="#ffa010" fill-opacity="0.7"/><ellipse cx="539.5" cy="122.6" rx="1.1" ry="1.3" fill="#ffa010" fill-opacity="0.7"/><ellipse cx="534.2" cy="114.8" rx="1.0" ry="2.5" fill="#ffa010" fill-opacity="0.7"/><ellipse cx="531.6" cy="100.5" rx="0.7" ry="1.3" fill="#ffa010" fill-opacity="0.7"/><ellipse cx="551.5" cy="125.4" rx="1.0" ry="1.4" fill="#ffa010" fill-opacity="0.7"/><ellipse cx="545.3" cy="127.1" rx="0.8" ry="1.9" fill="#ffa010" fill-opacity="0.7"/><ellipse cx="609.7" cy="115.7" rx="0.8" ry="2.4" fill="#ffa010" fill-opacity="0.7"/><ellipse cx="582.7" cy="135.2" rx="0.9" ry="1.4" fill="#ffa010" fill-opacity="0.7"/><ellipse cx="608.1" cy="111.8" rx="1.0" ry="1.8" fill="#ffa010" fill-opacity="0.7"/><ellipse cx="593.8" cy="105.7" rx="0.6" ry="1.8" fill="#ffa010" fill-opacity="0.7"/><ellipse cx="565.2" cy="128.7" rx="1.1" ry="2.0" fill="#ffa010" fill-opacity="0.7"/><ellipse cx="560.2" cy="106.6" rx="1.2" ry="1.8" fill="#ffa010" fill-opacity="0.7"/><ellipse cx="554.7" cy="117.9" rx="0.7" ry="2.2" fill="#ffa010" fill-opacity="0.7"/><ellipse cx="612.6" cy="129.7" rx="0.7" ry="1.4" fill="#ffa010" fill-opacity="0.7"/><ellipse cx="576.0" cy="115.2" rx="1.3" ry="1.9" fill="#ffa010" fill-opacity="0.7"/><ellipse cx="549.9" cy="105.3" rx="1.8" ry="1.1" fill="#ffa010" fill-opacity="0.85"/><ellipse cx="550.8" cy="104.7" rx="1.8" ry="1.0" fill="#ffa010" fill-opacity="0.85"/><ellipse cx="545.2" cy="105.8" rx="1.2" ry="1.5" fill="#ffa010" fill-opacity="0.85"/><ellipse cx="541.7" cy="105.3" rx="1.1" ry="1.0" fill="#ffa010" fill-opacity="0.85"/><ellipse cx="544.0" cy="106.3" rx="1.4" ry="1.3" fill="#ffa010" fill-opacity="0.85"/><ellipse cx="538.6" cy="105.5" rx="1.5" ry="1.6" fill="#ffa010" fill-opacity="0.85"/><ellipse cx="586.8" cy="102.1" rx="1.0" ry="1.1" fill="#ffa010" fill-opacity="0.85"/><ellipse cx="584.5" cy="101.1" rx="1.6" ry="1.2" fill="#ffa010" fill-opacity="0.85"/><ellipse cx="571.2" cy="103.0" rx="1.8" ry="1.0" fill="#ffa010" fill-opacity="0.85"/><ellipse cx="582.7" cy="101.2" rx="1.4" ry="1.2" fill="#ffa010" fill-opacity="0.85"/><ellipse cx="576.7" cy="101.3" rx="1.4" ry="1.3" fill="#ffa010" fill-opacity="0.85"/><ellipse cx="575.9" cy="101.0" rx="1.7" ry="1.1" fill="#ffa010" fill-opacity="0.85"/><ellipse cx="606.5" cy="100.9" rx="1.7" ry="1.1" fill="#ffa010" fill-opacity="0.85"/><ellipse cx="605.3" cy="99.7" rx="1.1" ry="0.9" fill="#ffa010" fill-opacity="0.85"/><ellipse cx="603.8" cy="101.3" rx="1.2" ry="1.1" fill="#ffa010" fill-opacity="0.85"/><ellipse cx="605.4" cy="101.0" rx="1.1" ry="1.0" fill="#ffa010" fill-opacity="0.85"/><ellipse cx="598.6" cy="99.8" rx="1.4" ry="0.9" fill="#ffa010" fill-opacity="0.85"/><ellipse cx="606.2" cy="100.6" rx="1.5" ry="1.3" fill="#ffa010" fill-opacity="0.85"/><ellipse cx="615.8" cy="99.6" rx="1.4" ry="1.1" fill="#ffa010" fill-opacity="0.85"/><ellipse cx="614.1" cy="97.5" rx="1.4" ry="1.4" fill="#ffa010" fill-opacity="0.85"/><ellipse cx="616.9" cy="99.5" rx="1.7" ry="1.3" fill="#ffa010" fill-opacity="0.85"/><ellipse cx="612.1" cy="98.3" rx="1.3" ry="1.3" fill="#ffa010" fill-opacity="0.85"/><ellipse cx="612.5" cy="98.4" rx="1.5" ry="1.4" fill="#ffa010" fill-opacity="0.85"/><ellipse cx="616.1" cy="99.0" rx="1.2" ry="1.4" fill="#ffa010" fill-opacity="0.85"/><ellipse cx="577.0" cy="114.0" rx="5.0" ry="3.0" fill="#11ee11" fill-opacity="1.0"/><ellipse cx="576.0" cy="111.5" rx="4.0" ry="2.0" fill="#9933ff" fill-opacity="1.0"/><ellipse cx="584.0" cy="116.0" rx="2.0" ry="2.5" fill="#9933ff" fill-opacity="0.8"/><ellipse cx="581.5" cy="118.0" rx="2.0" ry="3.0" fill="#11ee11" fill-opacity="0.8"/></g></g>
<rect x="56" y="11.3" width="639.6" height="322.8" fill="none" stroke="#000" stroke-width="2.2"/><line x1="51.5" x2="56" y1="20.90" y2="20.90" stroke="#222" stroke-width="1"/><line x1="51.5" x2="56" y1="30.70" y2="30.70" stroke="#222" stroke-width="1"/><line x1="50.5" x2="56" y1="40.50" y2="40.50" stroke="#000" stroke-width="2"/><line x1="51.5" x2="56" y1="50.30" y2="50.30" stroke="#222" stroke-width="1"/><line x1="51.5" x2="56" y1="60.10" y2="60.10" stroke="#222" stroke-width="1"/><line x1="51.5" x2="56" y1="69.90" y2="69.90" stroke="#222" stroke-width="1"/><line x1="51.5" x2="56" y1="79.70" y2="79.70" stroke="#222" stroke-width="1"/><line x1="50.5" x2="56" y1="89.50" y2="89.50" stroke="#000" stroke-width="2"/><line x1="51.5" x2="56" y1="99.30" y2="99.30" stroke="#222" stroke-width="1"/><line x1="51.5" x2="56" y1="109.10" y2="109.10" stroke="#222" stroke-width="1"/><line x1="51.5" x2="56" y1="118.90" y2="118.90" stroke="#222" stroke-width="1"/><line x1="51.5" x2="56" y1="128.70" y2="128.70" stroke="#222" stroke-width="1"/><line x1="50.5" x2="56" y1="138.50" y2="138.50" stroke="#000" stroke-width="2"/><line x1="51.5" x2="56" y1="148.30" y2="148.30" stroke="#222" stroke-width="1"/><line x1="51.5" x2="56" y1="158.10" y2="158.10" stroke="#222" stroke-width="1"/><line x1="51.5" x2="56" y1="167.90" y2="167.90" stroke="#222" stroke-width="1"/><line x1="51.5" x2="56" y1="177.70" y2="177.70" stroke="#222" stroke-width="1"/><line x1="50.5" x2="56" y1="187.50" y2="187.50" stroke="#000" stroke-width="2"/><line x1="51.5" x2="56" y1="197.30" y2="197.30" stroke="#222" stroke-width="1"/><line x1="51.5" x2="56" y1="207.10" y2="207.10" stroke="#222" stroke-width="1"/><line x1="51.5" x2="56" y1="216.90" y2="216.90" stroke="#222" stroke-width="1"/><line x1="51.5" x2="56" y1="226.70" y2="226.70" stroke="#222" stroke-width="1"/><line x1="50.5" x2="56" y1="236.50" y2="236.50" stroke="#000" stroke-width="2"/><line x1="51.5" x2="56" y1="246.30" y2="246.30" stroke="#222" stroke-width="1"/><line x1="51.5" x2="56" y1="256.10" y2="256.10" stroke="#222" stroke-width="1"/><line x1="51.5" x2="56" y1="265.90" y2="265.90" stroke="#222" stroke-width="1"/><line x1="51.5" x2="56" y1="275.70" y2="275.70" stroke="#222" stroke-width="1"/><line x1="50.5" x2="56" y1="285.50" y2="285.50" stroke="#000" stroke-width="2"/><line x1="51.5" x2="56" y1="295.30" y2="295.30" stroke="#222" stroke-width="1"/><line x1="51.5" x2="56" y1="305.10" y2="305.10" stroke="#222" stroke-width="1"/><line x1="51.5" x2="56" y1="314.90" y2="314.90" stroke="#222" stroke-width="1"/><line x1="51.5" x2="56" y1="324.70" y2="324.70" stroke="#222" stroke-width="1"/><line x1="60.84" x2="60.84" y1="334.1" y2="338" stroke="#222" stroke-width="1"/><line x1="80.42" x2="80.42" y1="334.1" y2="338" stroke="#222" stroke-width="1"/><line x1="100.00" x2="100.00" y1="334.1" y2="339" stroke="#000" stroke-width="2"/><line x1="119.58" x2="119.58" y1="334.1" y2="338" stroke="#222" stroke-width="1"/><line x1="139.16" x2="139.16" y1="334.1" y2="338" stroke="#222" stroke-width="1"/><line x1="158.74" x2="158.74" y1="334.1" y2="338" stroke="#222" stroke-width="1"/><line x1="178.32" x2="178.32" y1="334.1" y2="338" stroke="#222" stroke-width="1"/><line x1="197.90" x2="197.90" y1="334.1" y2="339" stroke="#000" stroke-width="2"/><line x1="217.48" x2="217.48" y1="334.1" y2="338" stroke="#222" stroke-width="1"/><line x1="237.06" x2="237.06" y1="334.1" y2="338" stroke="#222" stroke-width="1"/><line x1="256.64" x2="256.64" y1="334.1" y2="338" stroke="#222" stroke-width="1"/><line x1="276.22" x2="276.22" y1="334.1" y2="338" stroke="#222" stroke-width="1"/><line x1="295.80" x2="295.80" y1="334.1" y2="339" stroke="#000" stroke-width="2"/><line x1="315.38" x2="315.38" y1="334.1" y2="338" stroke="#222" stroke-width="1"/><line x1="334.96" x2="334.96" y1="334.1" y2="338" stroke="#222" stroke-width="1"/><line x1="354.54" x2="354.54" y1="334.1" y2="338" stroke="#222" stroke-width="1"/><line x1="374.12" x2="374.12" y1="334.1" y2="338" stroke="#222" stroke-width="1"/><line x1="393.70" x2="393.70" y1="334.1" y2="339" stroke="#000" stroke-width="2"/><line x1="413.28" x2="413.28" y1="334.1" y2="338" stroke="#222" stroke-width="1"/><line x1="432.86" x2="432.86" y1="334.1" y2="338" stroke="#222" stroke-width="1"/><line x1="452.44" x2="452.44" y1="334.1" y2="338" stroke="#222" stroke-width="1"/><line x1="472.02" x2="472.02" y1="334.1" y2="338" stroke="#222" stroke-width="1"/><line x1="491.60" x2="491.60" y1="334.1" y2="339" stroke="#000" stroke-width="2"/><line x1="511.18" x2="511.18" y1="334.1" y2="338" stroke="#222" stroke-width="1"/><line x1="530.76" x2="530.76" y1="334.1" y2="338" stroke="#222" stroke-width="1"/><line x1="550.34" x2="550.34" y1="334.1" y2="338" stroke="#222" stroke-width="1"/><line x1="569.92" x2="569.92" y1="334.1" y2="338" stroke="#222" stroke-width="1"/><line x1="589.50" x2="589.50" y1="334.1" y2="339" stroke="#000" stroke-width="2"/><line x1="609.08" x2="609.08" y1="334.1" y2="338" stroke="#222" stroke-width="1"/><line x1="628.66" x2="628.66" y1="334.1" y2="338" stroke="#222" stroke-width="1"/><line x1="648.24" x2="648.24" y1="334.1" y2="338" stroke="#222" stroke-width="1"/><line x1="667.82" x2="667.82" y1="334.1" y2="338" stroke="#222" stroke-width="1"/><line x1="687.40" x2="687.40" y1="334.1" y2="339" stroke="#000" stroke-width="2"/>
<text x="48.3" y="46.30" text-anchor="end" class="tl">105</text><text x="48.3" y="95.30" text-anchor="end" class="tl">110</text><text x="48.3" y="144.30" text-anchor="end" class="tl">115</text><text x="48.3" y="193.30" text-anchor="end" class="tl">120</text><text x="48.3" y="242.30" text-anchor="end" class="tl">125</text><text x="48.3" y="291.30" text-anchor="end" class="tl">130</text><text x="100.00" y="353" text-anchor="middle" class="tl">12</text><text x="197.90" y="353" text-anchor="middle" class="tl">11</text><text x="295.80" y="353" text-anchor="middle" class="tl">10</text><text x="393.70" y="353" text-anchor="middle" class="tl">9</text><text x="491.60" y="353" text-anchor="middle" class="tl">8</text><text x="589.50" y="353" text-anchor="middle" class="tl">7</text><text x="687.40" y="353" text-anchor="middle" class="tl">6</text>
<text x="337.2" y="377.3" class="ax" font-size="20" stroke="#000" stroke-width="0.2"><tspan font-size="12" dy="-5.8">1</tspan><tspan dy="5.8">H (ppm)</tspan></text><text transform="translate(16.2,218.4) rotate(-90)" class="ax" stroke="#000" stroke-width="0.35"><tspan font-size="14" dy="-5.6">15</tspan><tspan dy="6">N (ppm)</tspan></text><text x="342.9" y="93.6" class="ax" font-size="19" stroke="#000" stroke-width="0.3">B</text><text x="410.3" y="25.2" class="lb" textLength="32.7" lengthAdjust="spacingAndGlyphs">Gly95</text><text x="472.4" y="25.4" class="lb" textLength="38.05" lengthAdjust="spacingAndGlyphs">Gly111</text><text x="370.3" y="59.6" class="lb" textLength="32.7" lengthAdjust="spacingAndGlyphs">Gly97</text><text x="404.7" y="98.7" class="lb" textLength="39.4" lengthAdjust="spacingAndGlyphs">Gly174</text><text x="365.5" y="110.0" class="lb" textLength="32.7" lengthAdjust="spacingAndGlyphs">Thr24</text><text x="376.8" y="143.4" class="lb" textLength="33.4" lengthAdjust="spacingAndGlyphs">Glu37</text><text x="585.7" y="195.4" class="lb" textLength="41.4" lengthAdjust="spacingAndGlyphs">Leu101</text><text x="370.8" y="246.5" class="lb" textLength="36.0" lengthAdjust="spacingAndGlyphs">Asn20</text><text x="608.7" y="255.9" class="lb" textLength="40.0" lengthAdjust="spacingAndGlyphs">Glu109</text><text x="206.6" y="241.2" class="lb" textLength="32.8" lengthAdjust="spacingAndGlyphs">W103</text><text x="206.6" y="258.1" class="lb" textLength="57" lengthAdjust="spacingAndGlyphs">Indole NH</text><text x="88.3" y="275.2" class="lb" textLength="84.7" lengthAdjust="spacingAndGlyphs">Trp indole NHs</text><text x="88.3" y="291.7" class="lb" textLength="63.8" lengthAdjust="spacingAndGlyphs">unassigned</text><text x="296.9" y="303.3" class="lb" textLength="36.0" lengthAdjust="spacingAndGlyphs">Asp79</text><g filter="url(#soft)"><rect x="460.5" y="15.4" width="2.0" height="2.0" rx="1.0" fill="#ff0000"/><rect x="455.8" y="18.0" width="3.0" height="11.5" rx="1.5" fill="#ff0000"/><rect x="460.3" y="30.5" width="3.0" height="15.0" rx="1.5" fill="#ff0000"/><rect x="463.3" y="25.6" width="2.0" height="2.5" rx="1.0" fill="#ff0000"/><rect x="459.6" y="40.0" width="2.5" height="5.5" rx="1.25" fill="#ff0000"/><rect x="456.5" y="55.0" width="2.2" height="5.5" rx="1.1" fill="#ff0000"/><rect x="460.4" y="62.0" width="2.2" height="4.6" rx="1.1" fill="#ff0000"/><rect x="456.0" y="69.0" width="3.0" height="7.0" rx="1.5" fill="#ff0000"/><rect x="459.6" y="77.6" width="2.4" height="11.0" rx="1.2" fill="#ff0000"/><rect x="455.8" y="88.6" width="3.0" height="15.0" rx="1.5" fill="#ff0000"/><rect x="460.0" y="106.0" width="3.0" height="18.0" rx="1.5" fill="#ff0000"/><rect x="457.5" y="122.0" width="4.0" height="6.0" rx="2.0" fill="#ff0000"/><rect x="458.5" y="149.0" width="3.0" height="4.0" rx="1.5" fill="#ff0000"/><rect x="456.5" y="183.0" width="3.0" height="6.0" rx="1.5" fill="#ff0000"/><rect x="459.8" y="240.0" width="2.4" height="16.0" rx="1.2" fill="#ff0000"/><rect x="457.0" y="258.0" width="2.0" height="5.0" rx="1.0" fill="#ff0000"/><rect x="456.4" y="285.0" width="2.0" height="6.0" rx="1.0" fill="#ff0000"/><rect x="459.8" y="295.0" width="3.0" height="8.0" rx="1.5" fill="#ff0000"/><rect x="455.9" y="307.0" width="3.0" height="8.0" rx="1.5" fill="#ff0000"/><rect x="459.6" y="319.0" width="4.0" height="10.0" rx="2.0" fill="#ff0000"/><rect x="457.5" y="330.0" width="2.0" height="4.0" rx="1.0" fill="#ff0000"/><rect x="483.2" y="13.0" width="1.5" height="3.0" rx="0.75" fill="#ff0000"/><rect x="480.7" y="16.5" width="1.4" height="11.0" rx="0.7" fill="#ff0000"/><rect x="476.5" y="19.0" width="2.0" height="4.5" rx="1.0" fill="#ff0000"/><rect x="483.6" y="40.0" width="2.0" height="3.0" rx="1.0" fill="#ff0000"/><rect x="484.0" y="40.5" width="2.0" height="3.0" rx="1.0" fill="#ff0000"/><rect x="476.5" y="90.0" width="1.6" height="4.5" rx="0.8" fill="#ff0000"/><rect x="482.6" y="108.9" width="2.0" height="33.0" rx="1.0" fill="#ff0000"/><rect x="483.0" y="196.0" width="2.0" height="9.0" rx="1.0" fill="#ff0000"/><rect x="480.5" y="257.0" width="2.0" height="7.0" rx="1.0" fill="#ff0000"/><rect x="476.4" y="272.0" width="1.5" height="3.0" rx="0.75" fill="#ff0000"/><rect x="480.2" y="271.5" width="1.5" height="3.0" rx="0.75" fill="#ff0000"/><rect x="476.9" y="307.0" width="1.5" height="6.0" rx="0.75" fill="#ff0000"/><rect x="480.9" y="307.0" width="1.5" height="6.0" rx="0.75" fill="#ff0000"/><rect x="482.9" y="318.0" width="2.5" height="10.0" rx="1.25" fill="#ff0000"/></g><rect x="224.7" y="262.8" width="45.4" height="38.1" fill="none" stroke="#333" stroke-width="1.3" stroke-dasharray="3,1.7"/>
</svg>
</body></html>
